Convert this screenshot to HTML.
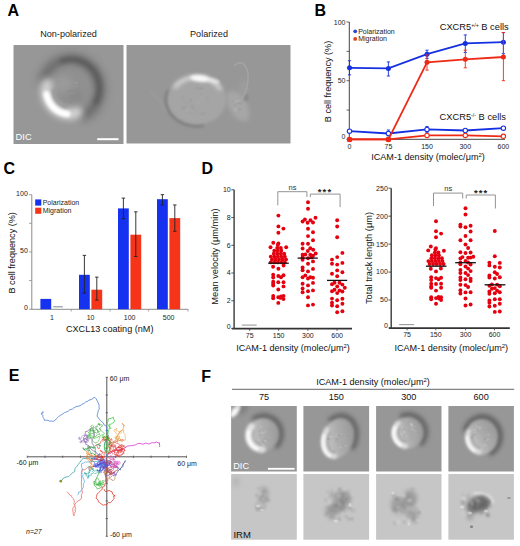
<!DOCTYPE html>
<html><head><meta charset="utf-8"><style>
html,body{margin:0;padding:0;background:#fff;}
svg{display:block;font-family:"Liberation Sans", sans-serif;}
</style></head><body>
<svg width="520" height="546" viewBox="0 0 520 546">
<text x="7.6" y="15.8" font-size="16" text-anchor="start" fill="#000" font-weight="bold" >A</text>
<text x="314.6" y="15.9" font-size="16" text-anchor="start" fill="#000" font-weight="bold" >B</text>
<text x="3.6" y="173.8" font-size="16" text-anchor="start" fill="#000" font-weight="bold" >C</text>
<text x="201.6" y="174.2" font-size="16" text-anchor="start" fill="#000" font-weight="bold" >D</text>
<text x="8.8" y="380.7" font-size="16" text-anchor="start" fill="#000" font-weight="bold" >E</text>
<text x="201.2" y="381.9" font-size="16" text-anchor="start" fill="#000" font-weight="bold" >F</text>
<text x="68.5" y="36.5" font-size="9.1" text-anchor="middle" fill="#222" font-weight="normal" >Non-polarized</text>
<text x="209" y="36.5" font-size="9.1" text-anchor="middle" fill="#222" font-weight="normal" >Polarized</text>
<defs>
<filter id="b05" x="-50%" y="-50%" width="200%" height="200%"><feGaussianBlur stdDeviation="0.6"/></filter>
<filter id="b1" x="-50%" y="-50%" width="200%" height="200%"><feGaussianBlur stdDeviation="1"/></filter>
<filter id="b15" x="-50%" y="-50%" width="200%" height="200%"><feGaussianBlur stdDeviation="1.5"/></filter>
<filter id="b2" x="-50%" y="-50%" width="200%" height="200%"><feGaussianBlur stdDeviation="2"/></filter>
<filter id="b3" x="-50%" y="-50%" width="200%" height="200%"><feGaussianBlur stdDeviation="3"/></filter>
<filter id="b4" x="-50%" y="-50%" width="200%" height="200%"><feGaussianBlur stdDeviation="4"/></filter>
</defs>
<defs><clipPath id="cA1"><rect x="13.5" y="45" width="110" height="99"/></clipPath></defs><defs><clipPath id="cA2"><rect x="126.5" y="45" width="164" height="98.5"/></clipPath></defs>
<rect x="13.5" y="45" width="110" height="99" fill="#979797"/>
<g clip-path="url(#cA1)"><path d="M44.7,79.1 L46.6,74.9 L49.0,71.0 L52.1,67.6 L55.6,64.8 L59.5,62.5 L63.8,61.0 L68.2,60.2 L72.6,60.0 L77.1,60.7 L81.3,62.0 L85.4,64.1 L89.0,66.8 L92.2,70.0 L94.8,73.8 L96.9,77.9 L98.2,82.3 L98.9,86.9 L98.9,91.5 L98.1,96.1 L96.7,100.5 L94.6,104.6 L91.9,108.3 L88.7,111.5 L85.0,114.1" fill="none" stroke="#4a4a4a" stroke-width="12" stroke-linecap="round" opacity="0.55" filter="url(#b4)"/><path d="M62.6,61.2 L65.3,60.4 L68.0,59.8 L70.8,59.5 L73.6,59.5 L76.4,59.9 L79.1,60.5 L81.8,61.4 L84.3,62.5 L86.8,64.0 L89.1,65.6 L91.2,67.6 L93.1,69.7 L94.8,72.0 L96.2,74.5 L97.4,77.1 L98.3,79.8 L99.0,82.6 L99.4,85.5 L99.5,88.4 L99.3,91.3 L98.8,94.2 L98.1,97.0 L97.1,99.7 L95.8,102.2" fill="none" stroke="#4a4a4a" stroke-width="6" stroke-linecap="round" opacity="0.5" filter="url(#b2)"/><ellipse cx="69.0" cy="90.0" rx="23.0" ry="25.0" fill="#8f8f8f" opacity="0.8" filter="url(#b3)"/><ellipse cx="63.0" cy="84.0" rx="10.0" ry="9.0" fill="#a4a4a4" opacity="0.5" filter="url(#b3)"/><ellipse cx="76.0" cy="96.0" rx="7.0" ry="6.0" fill="#828282" opacity="0.5" filter="url(#b3)"/><ellipse cx="68.6" cy="91.0" rx="3.0" ry="1.6" fill="#7c7c7c" opacity="0.11846603438548767" filter="url(#b05)"/><ellipse cx="70.4" cy="93.4" rx="2.8" ry="1.0" fill="#b0b0b0" opacity="0.11417951292594562" filter="url(#b05)"/><ellipse cx="71.2" cy="102.3" rx="2.5" ry="1.9" fill="#888888" opacity="0.19647577811255668" filter="url(#b05)"/><ellipse cx="74.6" cy="92.9" rx="1.5" ry="0.9" fill="#c0c0c0" opacity="0.1059551105168855" filter="url(#b05)"/><ellipse cx="60.7" cy="80.2" rx="1.3" ry="1.6" fill="#888888" opacity="0.15909594434680577" filter="url(#b05)"/><ellipse cx="60.9" cy="79.9" rx="1.8" ry="0.8" fill="#c0c0c0" opacity="0.14573298815995578" filter="url(#b05)"/><ellipse cx="76.2" cy="82.7" rx="1.7" ry="1.3" fill="#c0c0c0" opacity="0.15631422606579057" filter="url(#b05)"/><ellipse cx="76.3" cy="86.3" rx="2.3" ry="1.2" fill="#b0b0b0" opacity="0.13368928364451543" filter="url(#b05)"/><path d="M77.1,112.6 L75.1,113.2 L73.0,113.7 L71.0,113.9 L68.9,114.0 L66.8,113.9 L64.7,113.5 L62.7,113.0 L60.7,112.3 L58.8,111.4 L57.0,110.3 L55.3,109.1 L53.7,107.7 L52.2,106.1 L50.9,104.5 L49.7,102.7 L48.6,100.8 L47.8,98.8 L47.1,96.7 L46.6,94.6 L46.3,92.4 L46.2,90.3 L46.3,88.1 L46.5,85.9 L47.0,83.8" fill="none" stroke="#ffffff" stroke-width="11" stroke-linecap="round" opacity="0.6" filter="url(#b3)"/><path d="M67.2,113.9 L65.9,113.8 L64.7,113.5 L63.5,113.2 L62.3,112.9 L61.1,112.5 L59.9,112.0 L58.8,111.4 L57.7,110.8 L56.6,110.1 L55.6,109.4 L54.6,108.6 L53.7,107.7 L52.8,106.8 L51.9,105.8 L51.1,104.8 L50.4,103.8 L49.7,102.7 L49.0,101.5 L48.5,100.4 L48.0,99.2 L47.5,98.0 L47.1,96.7 L46.8,95.4 L46.5,94.2" fill="none" stroke="#ffffff" stroke-width="6.5" stroke-linecap="round" opacity="1" filter="url(#b15)"/><path d="M67.0,107.7 L66.1,107.5 L65.1,107.2 L64.2,106.9 L63.3,106.5 L62.4,106.1 L61.5,105.6 L60.7,105.0 L59.8,104.4 L59.1,103.8 L58.3,103.1 L57.6,102.4 L57.0,101.6 L56.4,100.7 L55.8,99.9 L55.3,99.0 L54.8,98.1 L54.4,97.1 L54.0,96.2 L53.7,95.2 L53.5,94.2 L53.3,93.1 L53.1,92.1 L53.0,91.0 L53.0,90.0" fill="none" stroke="#787878" stroke-width="2" stroke-linecap="round" opacity="0.35" filter="url(#b1)"/></g>
<text x="15.6" y="140.4" font-size="9.3" text-anchor="start" fill="#fff" font-weight="normal" >DIC</text>
<rect x="97.2" y="138.2" width="21.3" height="2" fill="#fff"/>
<rect x="126.5" y="45" width="164" height="98.5" fill="#979797"/>
<g clip-path="url(#cA2)"><ellipse cx="238.0" cy="106.0" rx="9.0" ry="17.0" fill="#acacac" opacity="0.75" filter="url(#b2)" transform="rotate(-30 238 106)"/><ellipse cx="243.0" cy="88.0" rx="4.0" ry="9.0" fill="#a4a4a4" opacity="0.45" filter="url(#b2)"/><ellipse cx="239.0" cy="109.2" rx="2.5" ry="1.3" fill="#8a8a8a" opacity="0.24740382717151854" filter="url(#b05)"/><ellipse cx="235.5" cy="110.5" rx="2.1" ry="1.3" fill="#c2c2c2" opacity="0.16266180706561467" filter="url(#b05)"/><ellipse cx="235.3" cy="105.9" rx="1.5" ry="1.7" fill="#929292" opacity="0.22690490618961665" filter="url(#b05)"/><ellipse cx="234.9" cy="101.7" rx="2.5" ry="1.3" fill="#c2c2c2" opacity="0.16491407247262302" filter="url(#b05)"/><ellipse cx="236.1" cy="109.7" rx="2.5" ry="1.6" fill="#b8b8b8" opacity="0.1257966108190567" filter="url(#b05)"/><ellipse cx="238.3" cy="101.3" rx="2.0" ry="1.2" fill="#c2c2c2" opacity="0.23489838096584625" filter="url(#b05)"/><ellipse cx="236.1" cy="109.1" rx="2.4" ry="2.1" fill="#c2c2c2" opacity="0.14361870204402621" filter="url(#b05)"/><ellipse cx="232.7" cy="101.6" rx="1.5" ry="1.3" fill="#8a8a8a" opacity="0.23338502663452027" filter="url(#b05)"/><ellipse cx="240.5" cy="103.3" rx="2.2" ry="2.0" fill="#929292" opacity="0.2231451513813286" filter="url(#b05)"/><ellipse cx="237.7" cy="103.1" rx="2.5" ry="1.1" fill="#8a8a8a" opacity="0.12685336632367727" filter="url(#b05)"/><ellipse cx="246.0" cy="97.5" rx="2.5" ry="3.5" fill="#7c7c7c" opacity="0.5" filter="url(#b1)"/><path d="M202.3,125.1 L199.7,125.4 L197.0,125.5 L194.3,125.4 L191.7,125.1 L189.1,124.6 L186.6,124.0 L184.1,123.1 L181.8,122.1 L179.5,120.9 L177.4,119.5 L175.4,118.0 L173.6,116.4 L172.0,114.6 L170.6,112.8 L169.4,110.8 L168.3,108.7 L167.5,106.6 L167.0,104.4 L166.6,102.2 L166.5,100.0 L166.6,97.8 L167.0,95.6 L167.5,93.4 L168.3,91.3" fill="none" stroke="#555555" stroke-width="3.5" stroke-linecap="round" opacity="0.4" filter="url(#b15)"/><ellipse cx="197.0" cy="99.5" rx="29.5" ry="25.0" fill="#a6a6a6" opacity="0.95" filter="url(#b15)"/><ellipse cx="183.9" cy="107.5" rx="2.5" ry="1.7" fill="#8c8c8c" opacity="0.1989721237068127" filter="url(#b05)"/><ellipse cx="184.7" cy="101.9" rx="2.8" ry="0.9" fill="#969696" opacity="0.10692647631833113" filter="url(#b05)"/><ellipse cx="210.3" cy="91.9" rx="1.7" ry="0.9" fill="#969696" opacity="0.16158900889891406" filter="url(#b05)"/><ellipse cx="197.9" cy="87.9" rx="3.1" ry="1.5" fill="#8c8c8c" opacity="0.1741021780800145" filter="url(#b05)"/><ellipse cx="207.6" cy="97.6" rx="1.5" ry="2.0" fill="#969696" opacity="0.18658855842064648" filter="url(#b05)"/><ellipse cx="186.9" cy="110.5" rx="1.6" ry="2.5" fill="#c4c4c4" opacity="0.11224778708824737" filter="url(#b05)"/><ellipse cx="197.0" cy="112.1" rx="1.6" ry="2.4" fill="#969696" opacity="0.1291987295189653" filter="url(#b05)"/><ellipse cx="190.4" cy="100.5" rx="1.7" ry="2.3" fill="#8c8c8c" opacity="0.1718092566102728" filter="url(#b05)"/><ellipse cx="197.6" cy="102.7" rx="2.7" ry="1.2" fill="#b6b6b6" opacity="0.15564870013296242" filter="url(#b05)"/><ellipse cx="203.2" cy="90.1" rx="1.5" ry="1.4" fill="#b6b6b6" opacity="0.1346613420261831" filter="url(#b05)"/><ellipse cx="202.1" cy="94.4" rx="1.4" ry="1.0" fill="#8c8c8c" opacity="0.17770185875051867" filter="url(#b05)"/><ellipse cx="192.7" cy="107.2" rx="2.6" ry="2.4" fill="#8c8c8c" opacity="0.14070146599246844" filter="url(#b05)"/><ellipse cx="201.8" cy="114.0" rx="2.2" ry="1.5" fill="#8c8c8c" opacity="0.1936287454337959" filter="url(#b05)"/><ellipse cx="187.3" cy="103.1" rx="2.1" ry="1.5" fill="#969696" opacity="0.10574309515729459" filter="url(#b05)"/><ellipse cx="189.1" cy="113.0" rx="2.5" ry="0.9" fill="#8c8c8c" opacity="0.11706296756455697" filter="url(#b05)"/><ellipse cx="208.3" cy="100.3" rx="1.7" ry="2.5" fill="#969696" opacity="0.10282994281711365" filter="url(#b05)"/><ellipse cx="202.3" cy="98.5" rx="2.4" ry="2.3" fill="#b6b6b6" opacity="0.11387950966830163" filter="url(#b05)"/><ellipse cx="201.7" cy="88.7" rx="2.6" ry="1.5" fill="#8c8c8c" opacity="0.1953974438575563" filter="url(#b05)"/><ellipse cx="204.0" cy="113.0" rx="2.4" ry="1.3" fill="#969696" opacity="0.17516366761826943" filter="url(#b05)"/><ellipse cx="183.0" cy="97.5" rx="1.6" ry="1.9" fill="#8c8c8c" opacity="0.1071889623011173" filter="url(#b05)"/><path d="M175.3,86.6 L176.6,85.1 L178.1,83.7 L179.7,82.4 L181.5,81.3 L183.3,80.2 L185.3,79.3 L187.3,78.6 L189.4,77.9 L191.5,77.5 L193.7,77.2 L195.9,77.0 L198.2,77.0 L200.4,77.2 L202.5,77.5 L204.7,78.0 L206.8,78.6 L208.8,79.4 L210.7,80.3 L212.6,81.3 L214.3,82.5 L215.9,83.8 L217.4,85.2 L218.8,86.7 L219.9,88.2" fill="none" stroke="#ffffff" stroke-width="4" stroke-linecap="round" opacity="0.55" filter="url(#b2)"/><ellipse cx="200.0" cy="78.5" rx="10.0" ry="3.3" fill="#ffffff" opacity="0.9" filter="url(#b15)" transform="rotate(6 200 78.5)"/><ellipse cx="214.0" cy="81.0" rx="6.0" ry="2.5" fill="#f4f4f4" opacity="0.6" filter="url(#b1)" transform="rotate(15 214 81)"/><path d="M234,66 C242,58 249,66 248,80 C247,90 245,95 242,99" fill="none" stroke="#b0b0b0" stroke-width="1.6" opacity="0.5" filter="url(#b05)"/><path d="M150,92 C158,96 162,104 166,112" fill="none" stroke="#a8a8a8" stroke-width="2" opacity="0.3" filter="url(#b1)"/></g>
<line x1="349.3" y1="22" x2="349.3" y2="139.4" stroke="#444" stroke-width="1" />
<line x1="349.3" y1="139.3" x2="505" y2="139.3" stroke="#444" stroke-width="1" />
<line x1="346.5" y1="139.4" x2="349.3" y2="139.4" stroke="#444" stroke-width="0.8" />
<line x1="346.5" y1="110.05000000000001" x2="349.3" y2="110.05000000000001" stroke="#444" stroke-width="0.8" />
<line x1="346.5" y1="80.70000000000002" x2="349.3" y2="80.70000000000002" stroke="#444" stroke-width="0.8" />
<line x1="346.5" y1="51.35000000000001" x2="349.3" y2="51.35000000000001" stroke="#444" stroke-width="0.8" />
<line x1="346.5" y1="22.000000000000014" x2="349.3" y2="22.000000000000014" stroke="#444" stroke-width="0.8" />
<text x="345.5" y="138.9" font-size="7" text-anchor="end" fill="#222" font-weight="normal" >0</text>
<text x="345.5" y="83.20000000000002" font-size="7" text-anchor="end" fill="#222" font-weight="normal" >50</text>
<text x="345.5" y="24.500000000000014" font-size="7" text-anchor="end" fill="#222" font-weight="normal" >100</text>
<text x="349.5" y="149.2" font-size="7" text-anchor="middle" fill="#222" font-weight="normal" >0</text>
<text x="388.4" y="149.2" font-size="7" text-anchor="middle" fill="#222" font-weight="normal" >75</text>
<text x="427" y="149.2" font-size="7" text-anchor="middle" fill="#222" font-weight="normal" >150</text>
<text x="465.3" y="149.2" font-size="7" text-anchor="middle" fill="#222" font-weight="normal" >300</text>
<text x="503.4" y="149.2" font-size="7" text-anchor="middle" fill="#222" font-weight="normal" >600</text>
<text x="428" y="160.3" font-size="9.1" text-anchor="middle" fill="#111" font-weight="normal" >ICAM-1 density (molec/&#956;m<tspan font-size="6" dy="-3">2</tspan><tspan dy="3">)</tspan></text>
<text x="0" y="0" font-size="9.1" text-anchor="middle" fill="#111" font-weight="normal" transform="translate(330.7,81.5) rotate(-90)">B cell frequency (%)</text>
<circle cx="355.2" cy="31.3" r="1.9" fill="#2a48d0"/>
<circle cx="355.2" cy="38.9" r="1.9" fill="#d8401e"/>
<text x="358.2" y="33.8" font-size="7" text-anchor="start" fill="#222" font-weight="normal" >Polarization</text>
<text x="358.2" y="41.4" font-size="7" text-anchor="start" fill="#222" font-weight="normal" >Migration</text>
<text x="439.7" y="30" font-size="9.3" text-anchor="start" fill="#111" font-weight="normal" >CXCR5<tspan font-size="5.2" dy="-3.2">+/+</tspan><tspan dy="3.2"> B cells</tspan></text>
<text x="439.6" y="120.1" font-size="9.3" text-anchor="start" fill="#111" font-weight="normal" >CXCR5<tspan font-size="5.2" dy="-3.2">-/-</tspan><tspan dy="3.2"> B cells</tspan></text>
<line x1="388.4" y1="130.008" x2="388.4" y2="135.87800000000001" stroke="#1530e0" stroke-width="0.9" />
<line x1="386.79999999999995" y1="130.008" x2="390.0" y2="130.008" stroke="#1530e0" stroke-width="0.9" />
<line x1="386.79999999999995" y1="135.87800000000001" x2="390.0" y2="135.87800000000001" stroke="#1530e0" stroke-width="0.9" />
<line x1="427" y1="126.486" x2="427" y2="132.356" stroke="#1530e0" stroke-width="0.9" />
<line x1="425.4" y1="126.486" x2="428.6" y2="126.486" stroke="#1530e0" stroke-width="0.9" />
<line x1="425.4" y1="132.356" x2="428.6" y2="132.356" stroke="#1530e0" stroke-width="0.9" />
<polyline points="349.5,131.2 388.4,133.5 427.0,129.4 465.3,130.5 503.4,128.2" fill="none" stroke="#1530e0" stroke-width="1.8"/>
<circle cx="349.5" cy="131.2" r="2.2" fill="#fff" stroke="#1530e0" stroke-width="1.1"/>
<circle cx="388.4" cy="133.5" r="2.2" fill="#fff" stroke="#1530e0" stroke-width="1.1"/>
<circle cx="427" cy="129.4" r="2.2" fill="#fff" stroke="#1530e0" stroke-width="1.1"/>
<circle cx="465.3" cy="130.5" r="2.2" fill="#fff" stroke="#1530e0" stroke-width="1.1"/>
<circle cx="503.4" cy="128.2" r="2.2" fill="#fff" stroke="#1530e0" stroke-width="1.1"/>
<polyline points="349.5,139.4 388.4,139.4 427.0,135.4 465.3,135.4 503.4,136.3" fill="none" stroke="#ee2a16" stroke-width="1.8"/>
<circle cx="349.5" cy="139.4" r="2.2" fill="#fff" stroke="#ee2a16" stroke-width="1.1"/>
<circle cx="388.4" cy="139.4" r="2.2" fill="#fff" stroke="#ee2a16" stroke-width="1.1"/>
<circle cx="427" cy="135.4" r="2.2" fill="#fff" stroke="#ee2a16" stroke-width="1.1"/>
<circle cx="465.3" cy="135.4" r="2.2" fill="#fff" stroke="#ee2a16" stroke-width="1.1"/>
<circle cx="503.4" cy="136.3" r="2.2" fill="#fff" stroke="#ee2a16" stroke-width="1.1"/>
<polyline points="349.5,139.4 388.4,139.4" fill="none" stroke="#ee2a16" stroke-width="1.8"/>
<circle cx="349.5" cy="139.4" r="2.5" fill="#ee2a16"/>
<circle cx="388.4" cy="139.4" r="2.5" fill="#ee2a16"/>
<line x1="349.5" y1="60.742000000000004" x2="349.5" y2="74.83000000000001" stroke="#1530e0" stroke-width="0.9" />
<line x1="347.9" y1="60.742000000000004" x2="351.1" y2="60.742000000000004" stroke="#1530e0" stroke-width="0.9" />
<line x1="347.9" y1="74.83000000000001" x2="351.1" y2="74.83000000000001" stroke="#1530e0" stroke-width="0.9" />
<line x1="388.4" y1="61.91600000000001" x2="388.4" y2="76.00400000000002" stroke="#1530e0" stroke-width="0.9" />
<line x1="386.79999999999995" y1="61.91600000000001" x2="390.0" y2="61.91600000000001" stroke="#1530e0" stroke-width="0.9" />
<line x1="386.79999999999995" y1="76.00400000000002" x2="390.0" y2="76.00400000000002" stroke="#1530e0" stroke-width="0.9" />
<line x1="427" y1="50.176000000000016" x2="427" y2="58.394000000000005" stroke="#1530e0" stroke-width="0.9" />
<line x1="425.4" y1="50.176000000000016" x2="428.6" y2="50.176000000000016" stroke="#1530e0" stroke-width="0.9" />
<line x1="425.4" y1="58.394000000000005" x2="428.6" y2="58.394000000000005" stroke="#1530e0" stroke-width="0.9" />
<line x1="465.3" y1="34.914000000000016" x2="465.3" y2="52.524000000000015" stroke="#1530e0" stroke-width="0.9" />
<line x1="463.7" y1="34.914000000000016" x2="466.90000000000003" y2="34.914000000000016" stroke="#1530e0" stroke-width="0.9" />
<line x1="463.7" y1="52.524000000000015" x2="466.90000000000003" y2="52.524000000000015" stroke="#1530e0" stroke-width="0.9" />
<line x1="503.4" y1="32.56600000000002" x2="503.4" y2="53.69800000000001" stroke="#1530e0" stroke-width="0.9" />
<line x1="501.79999999999995" y1="32.56600000000002" x2="505.0" y2="32.56600000000002" stroke="#1530e0" stroke-width="0.9" />
<line x1="501.79999999999995" y1="53.69800000000001" x2="505.0" y2="53.69800000000001" stroke="#1530e0" stroke-width="0.9" />
<polyline points="349.5,67.8 388.4,68.4 427.0,54.2 465.3,43.4 503.4,42.2" fill="none" stroke="#1530e0" stroke-width="1.8"/>
<circle cx="349.5" cy="67.8" r="2.5" fill="#1530e0"/>
<circle cx="388.4" cy="68.4" r="2.5" fill="#1530e0"/>
<circle cx="427" cy="54.2" r="2.5" fill="#1530e0"/>
<circle cx="465.3" cy="43.4" r="2.5" fill="#1530e0"/>
<circle cx="503.4" cy="42.2" r="2.5" fill="#1530e0"/>
<line x1="427" y1="54.872000000000014" x2="427" y2="70.13400000000001" stroke="#ee2a16" stroke-width="0.9" />
<line x1="425.4" y1="54.872000000000014" x2="428.6" y2="54.872000000000014" stroke="#ee2a16" stroke-width="0.9" />
<line x1="425.4" y1="70.13400000000001" x2="428.6" y2="70.13400000000001" stroke="#ee2a16" stroke-width="0.9" />
<line x1="465.3" y1="50.176000000000016" x2="465.3" y2="67.78600000000002" stroke="#ee2a16" stroke-width="0.9" />
<line x1="463.7" y1="50.176000000000016" x2="466.90000000000003" y2="50.176000000000016" stroke="#ee2a16" stroke-width="0.9" />
<line x1="463.7" y1="67.78600000000002" x2="466.90000000000003" y2="67.78600000000002" stroke="#ee2a16" stroke-width="0.9" />
<line x1="503.4" y1="32.56600000000002" x2="503.4" y2="80.70000000000002" stroke="#ee2a16" stroke-width="0.9" />
<line x1="501.79999999999995" y1="32.56600000000002" x2="505.0" y2="32.56600000000002" stroke="#ee2a16" stroke-width="0.9" />
<line x1="501.79999999999995" y1="80.70000000000002" x2="505.0" y2="80.70000000000002" stroke="#ee2a16" stroke-width="0.9" />
<polyline points="388.4,139.4 427.0,62.3 465.3,59.3 503.4,57.0" fill="none" stroke="#ee2a16" stroke-width="1.8"/>
<circle cx="388.4" cy="139.4" r="2.5" fill="#ee2a16"/>
<circle cx="427" cy="62.3" r="2.5" fill="#ee2a16"/>
<circle cx="465.3" cy="59.3" r="2.5" fill="#ee2a16"/>
<circle cx="503.4" cy="57.0" r="2.5" fill="#ee2a16"/>
<circle cx="349.5" cy="139.4" r="2.5" fill="#ee2a16"/>
<line x1="31.8" y1="194.6" x2="31.8" y2="309.5" stroke="#8c8c8c" stroke-width="1" />
<line x1="31.3" y1="309.3" x2="188.3" y2="309.3" stroke="#8c8c8c" stroke-width="1" />
<line x1="29" y1="309.2" x2="31.8" y2="309.2" stroke="#8c8c8c" stroke-width="0.8" />
<line x1="29" y1="280.565" x2="31.8" y2="280.565" stroke="#8c8c8c" stroke-width="0.8" />
<line x1="29" y1="251.93" x2="31.8" y2="251.93" stroke="#8c8c8c" stroke-width="0.8" />
<line x1="29" y1="223.295" x2="31.8" y2="223.295" stroke="#8c8c8c" stroke-width="0.8" />
<line x1="29" y1="194.66" x2="31.8" y2="194.66" stroke="#8c8c8c" stroke-width="0.8" />
<text x="27.8" y="310.4" font-size="7" text-anchor="end" fill="#222" font-weight="normal" >0</text>
<text x="27.8" y="253.13" font-size="7" text-anchor="end" fill="#222" font-weight="normal" >50</text>
<text x="27.8" y="195.85999999999999" font-size="7" text-anchor="end" fill="#222" font-weight="normal" >100</text>
<line x1="71.2" y1="309.3" x2="71.2" y2="311.5" stroke="#8c8c8c" stroke-width="0.8" />
<line x1="110" y1="309.3" x2="110" y2="311.5" stroke="#8c8c8c" stroke-width="0.8" />
<line x1="148.7" y1="309.3" x2="148.7" y2="311.5" stroke="#8c8c8c" stroke-width="0.8" />
<line x1="188" y1="309.3" x2="188" y2="311.5" stroke="#8c8c8c" stroke-width="0.8" />
<line x1="53.2" y1="306.8" x2="62.8" y2="306.8" stroke="#8890a8" stroke-width="1.1" />
<rect x="40.4" y="298.9" width="10.8" height="10.3" fill="#1432f0"/>
<rect x="52.8" y="309.2" width="10.8" height="0.0" fill="#f5341a"/>
<rect x="79.0" y="274.8" width="10.8" height="34.4" fill="#1432f0"/>
<rect x="91.39999999999999" y="289.7" width="10.8" height="19.5" fill="#f5341a"/>
<line x1="84.39999999999999" y1="255.3662" x2="84.39999999999999" y2="293.1644" stroke="#222" stroke-width="0.9" />
<line x1="82.69999999999999" y1="255.3662" x2="86.1" y2="255.3662" stroke="#222" stroke-width="0.9" />
<line x1="82.69999999999999" y1="293.1644" x2="86.1" y2="293.1644" stroke="#222" stroke-width="0.9" />
<line x1="96.8" y1="277.1288" x2="96.8" y2="300.03679999999997" stroke="#222" stroke-width="0.9" />
<line x1="95.1" y1="277.1288" x2="98.5" y2="277.1288" stroke="#222" stroke-width="0.9" />
<line x1="95.1" y1="300.03679999999997" x2="98.5" y2="300.03679999999997" stroke="#222" stroke-width="0.9" />
<rect x="118.0" y="208.4" width="10.8" height="100.8" fill="#1432f0"/>
<rect x="130.4" y="234.7" width="10.8" height="74.5" fill="#f5341a"/>
<line x1="123.39999999999999" y1="198.0962" x2="123.39999999999999" y2="218.71339999999998" stroke="#222" stroke-width="0.9" />
<line x1="121.69999999999999" y1="198.0962" x2="125.1" y2="198.0962" stroke="#222" stroke-width="0.9" />
<line x1="121.69999999999999" y1="218.71339999999998" x2="125.1" y2="218.71339999999998" stroke="#222" stroke-width="0.9" />
<line x1="135.79999999999998" y1="211.841" x2="135.79999999999998" y2="256.5116" stroke="#222" stroke-width="0.9" />
<line x1="134.1" y1="211.841" x2="137.49999999999997" y2="211.841" stroke="#222" stroke-width="0.9" />
<line x1="134.1" y1="256.5116" x2="137.49999999999997" y2="256.5116" stroke="#222" stroke-width="0.9" />
<rect x="157.0" y="199.2" width="10.8" height="110.0" fill="#1432f0"/>
<rect x="169.4" y="218.1" width="10.8" height="91.1" fill="#f5341a"/>
<line x1="162.4" y1="194.66" x2="162.4" y2="204.96859999999998" stroke="#222" stroke-width="0.9" />
<line x1="160.70000000000002" y1="194.66" x2="164.1" y2="194.66" stroke="#222" stroke-width="0.9" />
<line x1="160.70000000000002" y1="204.96859999999998" x2="164.1" y2="204.96859999999998" stroke="#222" stroke-width="0.9" />
<line x1="174.79999999999998" y1="204.96859999999998" x2="174.79999999999998" y2="231.31279999999998" stroke="#222" stroke-width="0.9" />
<line x1="173.1" y1="204.96859999999998" x2="176.49999999999997" y2="204.96859999999998" stroke="#222" stroke-width="0.9" />
<line x1="173.1" y1="231.31279999999998" x2="176.49999999999997" y2="231.31279999999998" stroke="#222" stroke-width="0.9" />
<text x="52" y="320" font-size="7" text-anchor="middle" fill="#222" font-weight="normal" >1</text>
<text x="90.6" y="320" font-size="7" text-anchor="middle" fill="#222" font-weight="normal" >10</text>
<text x="129.6" y="320" font-size="7" text-anchor="middle" fill="#222" font-weight="normal" >100</text>
<text x="168.6" y="320" font-size="7" text-anchor="middle" fill="#222" font-weight="normal" >500</text>
<text x="109.7" y="331.8" font-size="9.1" text-anchor="middle" fill="#111" font-weight="normal" >CXCL13 coating (nM)</text>
<text x="0" y="0" font-size="9.1" text-anchor="middle" fill="#111" font-weight="normal" transform="translate(14.8,252.8) rotate(-90)">B cell frequency (%)</text>
<rect x="35.2" y="199.4" width="6.1" height="6.2" fill="#1432f0"/>
<rect x="35.2" y="207.7" width="6.1" height="6.1" fill="#f5341a"/>
<text x="42.7" y="204.8" font-size="7" text-anchor="start" fill="#222" font-weight="normal" >Polarization</text>
<text x="42.7" y="212.9" font-size="7" text-anchor="start" fill="#222" font-weight="normal" >Migration</text>
<line x1="234.1" y1="189.8" x2="234.1" y2="329.0" stroke="#3a3a3a" stroke-width="1.4" />
<line x1="231.9" y1="328.7" x2="352" y2="328.7" stroke="#333" stroke-width="1.7" />
<line x1="231.29999999999998" y1="328.5" x2="234.1" y2="328.5" stroke="#444" stroke-width="0.9" />
<text x="230.7" y="328.59999999999997" font-size="7" text-anchor="end" fill="#222" font-weight="normal" >0</text>
<line x1="231.29999999999998" y1="300.76" x2="234.1" y2="300.76" stroke="#444" stroke-width="0.9" />
<text x="230.7" y="303.15999999999997" font-size="7" text-anchor="end" fill="#222" font-weight="normal" >2</text>
<line x1="231.29999999999998" y1="273.02" x2="234.1" y2="273.02" stroke="#444" stroke-width="0.9" />
<text x="230.7" y="275.41999999999996" font-size="7" text-anchor="end" fill="#222" font-weight="normal" >4</text>
<line x1="231.29999999999998" y1="245.28" x2="234.1" y2="245.28" stroke="#444" stroke-width="0.9" />
<text x="230.7" y="247.68" font-size="7" text-anchor="end" fill="#222" font-weight="normal" >6</text>
<line x1="231.29999999999998" y1="217.54000000000002" x2="234.1" y2="217.54000000000002" stroke="#444" stroke-width="0.9" />
<text x="230.7" y="219.94000000000003" font-size="7" text-anchor="end" fill="#222" font-weight="normal" >8</text>
<line x1="231.29999999999998" y1="189.8" x2="234.1" y2="189.8" stroke="#444" stroke-width="0.9" />
<text x="230.7" y="192.20000000000002" font-size="7" text-anchor="end" fill="#222" font-weight="normal" >10</text>
<line x1="249.7" y1="328.5" x2="249.7" y2="330.8" stroke="#444" stroke-width="0.9" />
<text x="249.7" y="337.5" font-size="7" text-anchor="middle" fill="#222" font-weight="normal" >75</text>
<line x1="278.6" y1="328.5" x2="278.6" y2="330.8" stroke="#444" stroke-width="0.9" />
<text x="278.6" y="337.5" font-size="7" text-anchor="middle" fill="#222" font-weight="normal" >150</text>
<line x1="307.9" y1="328.5" x2="307.9" y2="330.8" stroke="#444" stroke-width="0.9" />
<text x="307.9" y="337.5" font-size="7" text-anchor="middle" fill="#222" font-weight="normal" >300</text>
<line x1="337.1" y1="328.5" x2="337.1" y2="330.8" stroke="#444" stroke-width="0.9" />
<text x="337.1" y="337.5" font-size="7" text-anchor="middle" fill="#222" font-weight="normal" >600</text>
<line x1="241.79999999999998" y1="325.1" x2="256.7" y2="325.1" stroke="#9a9a9a" stroke-width="1.1" />
<circle cx="278.4" cy="215.6" r="1.95" fill="#e4000f"/>
<circle cx="278.4" cy="226.4" r="1.95" fill="#e4000f"/>
<circle cx="283.4" cy="228.6" r="1.95" fill="#e4000f"/>
<circle cx="278.4" cy="232.8" r="1.95" fill="#e4000f"/>
<circle cx="273.3" cy="242.7" r="1.95" fill="#e4000f"/>
<circle cx="278.4" cy="243.4" r="1.95" fill="#e4000f"/>
<circle cx="270.5" cy="247.2" r="1.95" fill="#e4000f"/>
<circle cx="286.2" cy="247.2" r="1.95" fill="#e4000f"/>
<circle cx="273.1" cy="266.8" r="1.95" fill="#e4000f"/>
<circle cx="278.4" cy="268.7" r="1.95" fill="#e4000f"/>
<circle cx="283.6" cy="265.5" r="1.95" fill="#e4000f"/>
<circle cx="273.2" cy="274.8" r="1.95" fill="#e4000f"/>
<circle cx="273.2" cy="277.5" r="1.95" fill="#e4000f"/>
<circle cx="273.2" cy="281.8" r="1.95" fill="#e4000f"/>
<circle cx="273.2" cy="283.7" r="1.95" fill="#e4000f"/>
<circle cx="273.2" cy="285.6" r="1.95" fill="#e4000f"/>
<circle cx="278.3" cy="276.0" r="1.95" fill="#e4000f"/>
<circle cx="283.5" cy="275.2" r="1.95" fill="#e4000f"/>
<circle cx="281.0" cy="277.2" r="1.95" fill="#e4000f"/>
<circle cx="278.3" cy="282.2" r="1.95" fill="#e4000f"/>
<circle cx="283.5" cy="282.2" r="1.95" fill="#e4000f"/>
<circle cx="283.5" cy="286.4" r="1.95" fill="#e4000f"/>
<circle cx="278.3" cy="289.5" r="1.95" fill="#e4000f"/>
<circle cx="273.2" cy="296.0" r="1.95" fill="#e4000f"/>
<circle cx="273.2" cy="298.3" r="1.95" fill="#e4000f"/>
<circle cx="278.3" cy="297.2" r="1.95" fill="#e4000f"/>
<circle cx="281.0" cy="296.4" r="1.95" fill="#e4000f"/>
<circle cx="283.5" cy="296.0" r="1.95" fill="#e4000f"/>
<circle cx="283.5" cy="299.1" r="1.95" fill="#e4000f"/>
<circle cx="280.5" cy="297.9" r="1.95" fill="#e4000f"/>
<circle cx="278.3" cy="302.9" r="1.95" fill="#e4000f"/>
<circle cx="277.8" cy="245.0" r="1.95" fill="#e4000f"/>
<circle cx="277.2" cy="247.9" r="1.95" fill="#e4000f"/>
<circle cx="280.8" cy="247.9" r="1.95" fill="#e4000f"/>
<circle cx="274.3" cy="250.8" r="1.95" fill="#e4000f"/>
<circle cx="277.8" cy="250.8" r="1.95" fill="#e4000f"/>
<circle cx="281.3" cy="250.8" r="1.95" fill="#e4000f"/>
<circle cx="273.8" cy="253.7" r="1.95" fill="#e4000f"/>
<circle cx="277.2" cy="253.7" r="1.95" fill="#e4000f"/>
<circle cx="280.8" cy="253.7" r="1.95" fill="#e4000f"/>
<circle cx="284.2" cy="253.7" r="1.95" fill="#e4000f"/>
<circle cx="270.8" cy="256.6" r="1.95" fill="#e4000f"/>
<circle cx="274.3" cy="256.6" r="1.95" fill="#e4000f"/>
<circle cx="277.8" cy="256.6" r="1.95" fill="#e4000f"/>
<circle cx="281.3" cy="256.6" r="1.95" fill="#e4000f"/>
<circle cx="284.8" cy="256.6" r="1.95" fill="#e4000f"/>
<circle cx="272.0" cy="259.5" r="1.95" fill="#e4000f"/>
<circle cx="275.5" cy="259.5" r="1.95" fill="#e4000f"/>
<circle cx="279.0" cy="259.5" r="1.95" fill="#e4000f"/>
<circle cx="282.5" cy="259.5" r="1.95" fill="#e4000f"/>
<circle cx="286.0" cy="259.5" r="1.95" fill="#e4000f"/>
<circle cx="270.8" cy="262.4" r="1.95" fill="#e4000f"/>
<circle cx="274.3" cy="262.4" r="1.95" fill="#e4000f"/>
<circle cx="277.8" cy="262.4" r="1.95" fill="#e4000f"/>
<circle cx="281.3" cy="262.4" r="1.95" fill="#e4000f"/>
<circle cx="284.8" cy="262.4" r="1.95" fill="#e4000f"/>
<circle cx="308.0" cy="202.2" r="1.95" fill="#e4000f"/>
<circle cx="308.0" cy="208.8" r="1.95" fill="#e4000f"/>
<circle cx="315.5" cy="217.8" r="1.95" fill="#e4000f"/>
<circle cx="302.6" cy="221.5" r="1.95" fill="#e4000f"/>
<circle cx="304.9" cy="219.5" r="1.95" fill="#e4000f"/>
<circle cx="307.6" cy="222.8" r="1.95" fill="#e4000f"/>
<circle cx="310.5" cy="220.3" r="1.95" fill="#e4000f"/>
<circle cx="313.0" cy="222.5" r="1.95" fill="#e4000f"/>
<circle cx="308.0" cy="228.8" r="1.95" fill="#e4000f"/>
<circle cx="313.0" cy="232.2" r="1.95" fill="#e4000f"/>
<circle cx="308.0" cy="236.1" r="1.95" fill="#e4000f"/>
<circle cx="313.0" cy="240.3" r="1.95" fill="#e4000f"/>
<circle cx="302.6" cy="243.7" r="1.95" fill="#e4000f"/>
<circle cx="308.0" cy="243.7" r="1.95" fill="#e4000f"/>
<circle cx="302.6" cy="248.5" r="1.95" fill="#e4000f"/>
<circle cx="310.3" cy="248.3" r="1.95" fill="#e4000f"/>
<circle cx="313.2" cy="249.7" r="1.95" fill="#e4000f"/>
<circle cx="307.8" cy="251.0" r="1.95" fill="#e4000f"/>
<circle cx="302.6" cy="254.8" r="1.95" fill="#e4000f"/>
<circle cx="305.3" cy="254.5" r="1.95" fill="#e4000f"/>
<circle cx="315.7" cy="253.5" r="1.95" fill="#e4000f"/>
<circle cx="310.3" cy="254.8" r="1.95" fill="#e4000f"/>
<circle cx="313.0" cy="255.8" r="1.95" fill="#e4000f"/>
<circle cx="302.6" cy="257.2" r="1.95" fill="#e4000f"/>
<circle cx="308.0" cy="258.3" r="1.95" fill="#e4000f"/>
<circle cx="311.5" cy="257.2" r="1.95" fill="#e4000f"/>
<circle cx="302.6" cy="259.8" r="1.95" fill="#e4000f"/>
<circle cx="313.0" cy="261.4" r="1.95" fill="#e4000f"/>
<circle cx="308.0" cy="263.8" r="1.95" fill="#e4000f"/>
<circle cx="302.6" cy="267.5" r="1.95" fill="#e4000f"/>
<circle cx="302.6" cy="270.2" r="1.95" fill="#e4000f"/>
<circle cx="313.0" cy="268.9" r="1.95" fill="#e4000f"/>
<circle cx="308.0" cy="271.4" r="1.95" fill="#e4000f"/>
<circle cx="302.6" cy="277.3" r="1.95" fill="#e4000f"/>
<circle cx="305.3" cy="275.4" r="1.95" fill="#e4000f"/>
<circle cx="308.0" cy="278.5" r="1.95" fill="#e4000f"/>
<circle cx="310.3" cy="277.3" r="1.95" fill="#e4000f"/>
<circle cx="313.0" cy="277.7" r="1.95" fill="#e4000f"/>
<circle cx="302.6" cy="283.8" r="1.95" fill="#e4000f"/>
<circle cx="308.0" cy="285.4" r="1.95" fill="#e4000f"/>
<circle cx="313.0" cy="282.9" r="1.95" fill="#e4000f"/>
<circle cx="302.6" cy="288.5" r="1.95" fill="#e4000f"/>
<circle cx="302.6" cy="292.3" r="1.95" fill="#e4000f"/>
<circle cx="308.0" cy="291.2" r="1.95" fill="#e4000f"/>
<circle cx="313.0" cy="290.4" r="1.95" fill="#e4000f"/>
<circle cx="308.0" cy="297.3" r="1.95" fill="#e4000f"/>
<circle cx="308.0" cy="305.4" r="1.95" fill="#e4000f"/>
<circle cx="313.0" cy="304.6" r="1.95" fill="#e4000f"/>
<circle cx="337.2" cy="220.3" r="1.95" fill="#e4000f"/>
<circle cx="337.2" cy="226.5" r="1.95" fill="#e4000f"/>
<circle cx="337.2" cy="237.2" r="1.95" fill="#e4000f"/>
<circle cx="342.4" cy="252.9" r="1.95" fill="#e4000f"/>
<circle cx="337.2" cy="257.1" r="1.95" fill="#e4000f"/>
<circle cx="332.0" cy="259.6" r="1.95" fill="#e4000f"/>
<circle cx="332.0" cy="263.8" r="1.95" fill="#e4000f"/>
<circle cx="337.2" cy="264.6" r="1.95" fill="#e4000f"/>
<circle cx="342.4" cy="262.9" r="1.95" fill="#e4000f"/>
<circle cx="337.2" cy="270.4" r="1.95" fill="#e4000f"/>
<circle cx="342.4" cy="272.3" r="1.95" fill="#e4000f"/>
<circle cx="332.0" cy="273.7" r="1.95" fill="#e4000f"/>
<circle cx="337.2" cy="276.3" r="1.95" fill="#e4000f"/>
<circle cx="332.0" cy="284.2" r="1.95" fill="#e4000f"/>
<circle cx="334.5" cy="282.7" r="1.95" fill="#e4000f"/>
<circle cx="339.5" cy="282.7" r="1.95" fill="#e4000f"/>
<circle cx="342.4" cy="284.6" r="1.95" fill="#e4000f"/>
<circle cx="337.2" cy="286.5" r="1.95" fill="#e4000f"/>
<circle cx="344.8" cy="287.8" r="1.95" fill="#e4000f"/>
<circle cx="332.0" cy="291.2" r="1.95" fill="#e4000f"/>
<circle cx="334.5" cy="289.8" r="1.95" fill="#e4000f"/>
<circle cx="337.2" cy="293.1" r="1.95" fill="#e4000f"/>
<circle cx="339.5" cy="290.5" r="1.95" fill="#e4000f"/>
<circle cx="342.4" cy="291.5" r="1.95" fill="#e4000f"/>
<circle cx="332.0" cy="298.6" r="1.95" fill="#e4000f"/>
<circle cx="337.2" cy="300.3" r="1.95" fill="#e4000f"/>
<circle cx="342.4" cy="298.8" r="1.95" fill="#e4000f"/>
<circle cx="332.0" cy="302.8" r="1.95" fill="#e4000f"/>
<circle cx="332.0" cy="305.5" r="1.95" fill="#e4000f"/>
<circle cx="337.2" cy="306.3" r="1.95" fill="#e4000f"/>
<circle cx="342.4" cy="303.8" r="1.95" fill="#e4000f"/>
<circle cx="337.2" cy="312.3" r="1.95" fill="#e4000f"/>
<circle cx="342.4" cy="311.3" r="1.95" fill="#e4000f"/>
<line x1="268.2" y1="263.2" x2="288.8" y2="263.2" stroke="#111" stroke-width="1.3" />
<line x1="297.6" y1="258.1" x2="317.8" y2="258.1" stroke="#111" stroke-width="1.3" />
<line x1="327" y1="280.4" x2="347.2" y2="280.4" stroke="#111" stroke-width="1.3" />
<polyline points="277.8,205.3 277.8,191.7 306.9,191.7 306.9,196.9" fill="none" stroke="#888" stroke-width="0.9"/>
<text x="292.5" y="189.8" font-size="7.5" text-anchor="middle" fill="#333" font-weight="normal" >ns</text>
<polyline points="310.3,197.2 310.3,194.1 340.1,194.1 340.1,207.1" fill="none" stroke="#888" stroke-width="0.9"/>
<text x="325.0" y="195.1" font-size="9.5" text-anchor="middle" fill="#222" font-weight="bold" letter-spacing="1.1">***</text>
<text x="0" y="0" font-size="9.3" text-anchor="middle" fill="#111" font-weight="normal" transform="translate(218.2,256.5) rotate(-90)">Mean velocity (&#956;m/min)</text>
<text x="293" y="351.3" font-size="9.1" text-anchor="middle" fill="#111" font-weight="normal" >ICAM-1 density (molec/&#956;m<tspan font-size="6" dy="-3">2</tspan><tspan dy="3">)</tspan></text>
<line x1="391.2" y1="188.2" x2="391.2" y2="328.5" stroke="#3a3a3a" stroke-width="1.4" />
<line x1="389.0" y1="328.2" x2="509.8" y2="328.2" stroke="#333" stroke-width="1.7" />
<line x1="388.4" y1="328.0" x2="391.2" y2="328.0" stroke="#444" stroke-width="0.9" />
<text x="387.8" y="328.09999999999997" font-size="7" text-anchor="end" fill="#222" font-weight="normal" >0</text>
<line x1="388.4" y1="300.04" x2="391.2" y2="300.04" stroke="#444" stroke-width="0.9" />
<text x="387.8" y="302.44" font-size="7" text-anchor="end" fill="#222" font-weight="normal" >50</text>
<line x1="388.4" y1="272.08" x2="391.2" y2="272.08" stroke="#444" stroke-width="0.9" />
<text x="387.8" y="274.47999999999996" font-size="7" text-anchor="end" fill="#222" font-weight="normal" >100</text>
<line x1="388.4" y1="244.12" x2="391.2" y2="244.12" stroke="#444" stroke-width="0.9" />
<text x="387.8" y="246.52" font-size="7" text-anchor="end" fill="#222" font-weight="normal" >150</text>
<line x1="388.4" y1="216.16" x2="391.2" y2="216.16" stroke="#444" stroke-width="0.9" />
<text x="387.8" y="218.56" font-size="7" text-anchor="end" fill="#222" font-weight="normal" >200</text>
<line x1="388.4" y1="188.2" x2="391.2" y2="188.2" stroke="#444" stroke-width="0.9" />
<text x="387.8" y="190.6" font-size="7" text-anchor="end" fill="#222" font-weight="normal" >250</text>
<line x1="407.1" y1="328.0" x2="407.1" y2="330.3" stroke="#444" stroke-width="0.9" />
<text x="407.1" y="337.0" font-size="7" text-anchor="middle" fill="#222" font-weight="normal" >75</text>
<line x1="435.8" y1="328.0" x2="435.8" y2="330.3" stroke="#444" stroke-width="0.9" />
<text x="435.8" y="337.0" font-size="7" text-anchor="middle" fill="#222" font-weight="normal" >150</text>
<line x1="465.6" y1="328.0" x2="465.6" y2="330.3" stroke="#444" stroke-width="0.9" />
<text x="465.6" y="337.0" font-size="7" text-anchor="middle" fill="#222" font-weight="normal" >300</text>
<line x1="494.5" y1="328.0" x2="494.5" y2="330.3" stroke="#444" stroke-width="0.9" />
<text x="494.5" y="337.0" font-size="7" text-anchor="middle" fill="#222" font-weight="normal" >600</text>
<line x1="399.20000000000005" y1="324.6" x2="414.1" y2="324.6" stroke="#9a9a9a" stroke-width="1.1" />
<circle cx="436.0" cy="221.2" r="1.95" fill="#e4000f"/>
<circle cx="436.0" cy="231.2" r="1.95" fill="#e4000f"/>
<circle cx="441.1" cy="233.6" r="1.95" fill="#e4000f"/>
<circle cx="436.0" cy="237.3" r="1.95" fill="#e4000f"/>
<circle cx="430.8" cy="246.5" r="1.95" fill="#e4000f"/>
<circle cx="436.0" cy="248.1" r="1.95" fill="#e4000f"/>
<circle cx="428.2" cy="250.4" r="1.95" fill="#e4000f"/>
<circle cx="443.9" cy="250.8" r="1.95" fill="#e4000f"/>
<circle cx="430.8" cy="268.8" r="1.95" fill="#e4000f"/>
<circle cx="436.0" cy="271.4" r="1.95" fill="#e4000f"/>
<circle cx="440.9" cy="268.5" r="1.95" fill="#e4000f"/>
<circle cx="431.2" cy="277.3" r="1.95" fill="#e4000f"/>
<circle cx="431.2" cy="280.0" r="1.95" fill="#e4000f"/>
<circle cx="431.2" cy="283.8" r="1.95" fill="#e4000f"/>
<circle cx="431.2" cy="286.5" r="1.95" fill="#e4000f"/>
<circle cx="431.2" cy="287.7" r="1.95" fill="#e4000f"/>
<circle cx="436.0" cy="278.1" r="1.95" fill="#e4000f"/>
<circle cx="441.1" cy="277.7" r="1.95" fill="#e4000f"/>
<circle cx="438.5" cy="279.2" r="1.95" fill="#e4000f"/>
<circle cx="436.0" cy="284.0" r="1.95" fill="#e4000f"/>
<circle cx="441.1" cy="283.8" r="1.95" fill="#e4000f"/>
<circle cx="441.1" cy="287.7" r="1.95" fill="#e4000f"/>
<circle cx="436.0" cy="290.6" r="1.95" fill="#e4000f"/>
<circle cx="431.2" cy="297.3" r="1.95" fill="#e4000f"/>
<circle cx="431.2" cy="299.2" r="1.95" fill="#e4000f"/>
<circle cx="436.0" cy="298.1" r="1.95" fill="#e4000f"/>
<circle cx="438.5" cy="296.9" r="1.95" fill="#e4000f"/>
<circle cx="441.1" cy="297.3" r="1.95" fill="#e4000f"/>
<circle cx="441.1" cy="300.0" r="1.95" fill="#e4000f"/>
<circle cx="439.0" cy="298.5" r="1.95" fill="#e4000f"/>
<circle cx="436.0" cy="303.7" r="1.95" fill="#e4000f"/>
<circle cx="435.4" cy="249.5" r="1.95" fill="#e4000f"/>
<circle cx="434.9" cy="252.4" r="1.95" fill="#e4000f"/>
<circle cx="438.4" cy="252.4" r="1.95" fill="#e4000f"/>
<circle cx="431.9" cy="255.3" r="1.95" fill="#e4000f"/>
<circle cx="435.4" cy="255.3" r="1.95" fill="#e4000f"/>
<circle cx="438.9" cy="255.3" r="1.95" fill="#e4000f"/>
<circle cx="431.4" cy="258.2" r="1.95" fill="#e4000f"/>
<circle cx="434.9" cy="258.2" r="1.95" fill="#e4000f"/>
<circle cx="438.4" cy="258.2" r="1.95" fill="#e4000f"/>
<circle cx="441.9" cy="258.2" r="1.95" fill="#e4000f"/>
<circle cx="428.4" cy="261.1" r="1.95" fill="#e4000f"/>
<circle cx="431.9" cy="261.1" r="1.95" fill="#e4000f"/>
<circle cx="435.4" cy="261.1" r="1.95" fill="#e4000f"/>
<circle cx="438.9" cy="261.1" r="1.95" fill="#e4000f"/>
<circle cx="442.4" cy="261.1" r="1.95" fill="#e4000f"/>
<circle cx="429.6" cy="264.0" r="1.95" fill="#e4000f"/>
<circle cx="433.1" cy="264.0" r="1.95" fill="#e4000f"/>
<circle cx="436.6" cy="264.0" r="1.95" fill="#e4000f"/>
<circle cx="440.1" cy="264.0" r="1.95" fill="#e4000f"/>
<circle cx="443.6" cy="264.0" r="1.95" fill="#e4000f"/>
<circle cx="465.5" cy="208.3" r="1.95" fill="#e4000f"/>
<circle cx="465.5" cy="214.5" r="1.95" fill="#e4000f"/>
<circle cx="460.4" cy="224.6" r="1.95" fill="#e4000f"/>
<circle cx="460.4" cy="226.5" r="1.95" fill="#e4000f"/>
<circle cx="465.5" cy="227.3" r="1.95" fill="#e4000f"/>
<circle cx="470.6" cy="225.8" r="1.95" fill="#e4000f"/>
<circle cx="470.6" cy="231.5" r="1.95" fill="#e4000f"/>
<circle cx="465.5" cy="236.0" r="1.95" fill="#e4000f"/>
<circle cx="460.4" cy="240.3" r="1.95" fill="#e4000f"/>
<circle cx="470.6" cy="240.3" r="1.95" fill="#e4000f"/>
<circle cx="465.5" cy="244.5" r="1.95" fill="#e4000f"/>
<circle cx="468.1" cy="248.0" r="1.95" fill="#e4000f"/>
<circle cx="460.4" cy="252.2" r="1.95" fill="#e4000f"/>
<circle cx="465.5" cy="253.0" r="1.95" fill="#e4000f"/>
<circle cx="470.6" cy="252.5" r="1.95" fill="#e4000f"/>
<circle cx="460.4" cy="258.4" r="1.95" fill="#e4000f"/>
<circle cx="462.5" cy="257.1" r="1.95" fill="#e4000f"/>
<circle cx="468.1" cy="257.8" r="1.95" fill="#e4000f"/>
<circle cx="470.6" cy="257.6" r="1.95" fill="#e4000f"/>
<circle cx="473.3" cy="256.8" r="1.95" fill="#e4000f"/>
<circle cx="460.4" cy="262.5" r="1.95" fill="#e4000f"/>
<circle cx="460.4" cy="264.2" r="1.95" fill="#e4000f"/>
<circle cx="465.5" cy="260.9" r="1.95" fill="#e4000f"/>
<circle cx="468.1" cy="262.5" r="1.95" fill="#e4000f"/>
<circle cx="470.6" cy="264.5" r="1.95" fill="#e4000f"/>
<circle cx="465.5" cy="266.5" r="1.95" fill="#e4000f"/>
<circle cx="468.1" cy="268.6" r="1.95" fill="#e4000f"/>
<circle cx="470.6" cy="271.1" r="1.95" fill="#e4000f"/>
<circle cx="460.4" cy="269.9" r="1.95" fill="#e4000f"/>
<circle cx="460.4" cy="273.0" r="1.95" fill="#e4000f"/>
<circle cx="465.5" cy="273.0" r="1.95" fill="#e4000f"/>
<circle cx="468.1" cy="275.1" r="1.95" fill="#e4000f"/>
<circle cx="460.4" cy="277.4" r="1.95" fill="#e4000f"/>
<circle cx="460.4" cy="280.1" r="1.95" fill="#e4000f"/>
<circle cx="465.5" cy="279.3" r="1.95" fill="#e4000f"/>
<circle cx="470.6" cy="278.8" r="1.95" fill="#e4000f"/>
<circle cx="470.6" cy="281.1" r="1.95" fill="#e4000f"/>
<circle cx="460.4" cy="284.7" r="1.95" fill="#e4000f"/>
<circle cx="465.5" cy="285.1" r="1.95" fill="#e4000f"/>
<circle cx="468.1" cy="287.0" r="1.95" fill="#e4000f"/>
<circle cx="460.4" cy="290.3" r="1.95" fill="#e4000f"/>
<circle cx="460.4" cy="293.5" r="1.95" fill="#e4000f"/>
<circle cx="465.5" cy="292.4" r="1.95" fill="#e4000f"/>
<circle cx="470.6" cy="292.2" r="1.95" fill="#e4000f"/>
<circle cx="465.5" cy="298.5" r="1.95" fill="#e4000f"/>
<circle cx="465.5" cy="305.5" r="1.95" fill="#e4000f"/>
<circle cx="470.6" cy="304.5" r="1.95" fill="#e4000f"/>
<circle cx="494.8" cy="231.0" r="1.95" fill="#e4000f"/>
<circle cx="494.8" cy="256.2" r="1.95" fill="#e4000f"/>
<circle cx="489.4" cy="262.6" r="1.95" fill="#e4000f"/>
<circle cx="489.4" cy="265.4" r="1.95" fill="#e4000f"/>
<circle cx="499.8" cy="262.9" r="1.95" fill="#e4000f"/>
<circle cx="494.8" cy="266.8" r="1.95" fill="#e4000f"/>
<circle cx="499.8" cy="267.5" r="1.95" fill="#e4000f"/>
<circle cx="494.8" cy="272.2" r="1.95" fill="#e4000f"/>
<circle cx="497.1" cy="274.0" r="1.95" fill="#e4000f"/>
<circle cx="489.4" cy="275.4" r="1.95" fill="#e4000f"/>
<circle cx="489.4" cy="277.5" r="1.95" fill="#e4000f"/>
<circle cx="494.8" cy="278.5" r="1.95" fill="#e4000f"/>
<circle cx="499.8" cy="277.3" r="1.95" fill="#e4000f"/>
<circle cx="489.4" cy="285.8" r="1.95" fill="#e4000f"/>
<circle cx="491.9" cy="284.5" r="1.95" fill="#e4000f"/>
<circle cx="497.1" cy="284.6" r="1.95" fill="#e4000f"/>
<circle cx="499.8" cy="286.2" r="1.95" fill="#e4000f"/>
<circle cx="491.9" cy="288.8" r="1.95" fill="#e4000f"/>
<circle cx="494.8" cy="288.1" r="1.95" fill="#e4000f"/>
<circle cx="489.4" cy="291.5" r="1.95" fill="#e4000f"/>
<circle cx="489.4" cy="293.8" r="1.95" fill="#e4000f"/>
<circle cx="494.8" cy="293.2" r="1.95" fill="#e4000f"/>
<circle cx="497.1" cy="290.8" r="1.95" fill="#e4000f"/>
<circle cx="499.8" cy="292.2" r="1.95" fill="#e4000f"/>
<circle cx="489.4" cy="300.4" r="1.95" fill="#e4000f"/>
<circle cx="494.8" cy="299.2" r="1.95" fill="#e4000f"/>
<circle cx="499.8" cy="299.2" r="1.95" fill="#e4000f"/>
<circle cx="489.4" cy="302.8" r="1.95" fill="#e4000f"/>
<circle cx="489.4" cy="306.5" r="1.95" fill="#e4000f"/>
<circle cx="494.8" cy="305.8" r="1.95" fill="#e4000f"/>
<circle cx="499.8" cy="303.7" r="1.95" fill="#e4000f"/>
<circle cx="494.8" cy="311.9" r="1.95" fill="#e4000f"/>
<circle cx="499.8" cy="311.5" r="1.95" fill="#e4000f"/>
<line x1="425.9" y1="266.2" x2="446.5" y2="266.2" stroke="#111" stroke-width="1.3" />
<line x1="455.2" y1="262.7" x2="475.8" y2="262.7" stroke="#111" stroke-width="1.3" />
<line x1="484.6" y1="284.8" x2="505.4" y2="284.8" stroke="#111" stroke-width="1.3" />
<polyline points="433.5,206 433.5,193.1 462.7,193.1 462.7,198.5" fill="none" stroke="#888" stroke-width="0.9"/>
<text x="448.3" y="190.8" font-size="7.5" text-anchor="middle" fill="#333" font-weight="normal" >ns</text>
<polyline points="466.2,198.5 466.2,195 495.4,195 495.4,208.5" fill="none" stroke="#888" stroke-width="0.9"/>
<text x="481.1" y="195.79999999999998" font-size="9.5" text-anchor="middle" fill="#222" font-weight="bold" letter-spacing="1.1">***</text>
<text x="0" y="0" font-size="9.3" text-anchor="middle" fill="#111" font-weight="normal" transform="translate(372.2,258) rotate(-90)">Total track length (&#956;m)</text>
<text x="451.3" y="351.3" font-size="9.1" text-anchor="middle" fill="#111" font-weight="normal" >ICAM-1 density (molec/&#956;m<tspan font-size="6" dy="-3">2</tspan><tspan dy="3">)</tspan></text>
<line x1="27.3" y1="456.8" x2="186.5" y2="456.8" stroke="#555" stroke-width="1.0" />
<line x1="106.8" y1="377.3" x2="106.8" y2="536.3" stroke="#555" stroke-width="1.0" />
<line x1="27.3" y1="455.6" x2="27.3" y2="458" stroke="#555" stroke-width="0.8" />
<line x1="186.5" y1="455.6" x2="186.5" y2="458" stroke="#555" stroke-width="0.8" />
<line x1="105.6" y1="377.3" x2="108" y2="377.3" stroke="#555" stroke-width="0.8" />
<line x1="105.6" y1="536.3" x2="108" y2="536.3" stroke="#555" stroke-width="0.8" />
<line x1="45.0" y1="455.6" x2="45.0" y2="458" stroke="#555" stroke-width="0.8" />
<line x1="168.8" y1="455.6" x2="168.8" y2="458" stroke="#555" stroke-width="0.8" />
<line x1="105.6" y1="395.0" x2="108" y2="395.0" stroke="#555" stroke-width="0.8" />
<line x1="105.6" y1="518.5999999999999" x2="108" y2="518.5999999999999" stroke="#555" stroke-width="0.8" />
<line x1="62.7" y1="455.6" x2="62.7" y2="458" stroke="#555" stroke-width="0.8" />
<line x1="151.1" y1="455.6" x2="151.1" y2="458" stroke="#555" stroke-width="0.8" />
<line x1="105.6" y1="412.7" x2="108" y2="412.7" stroke="#555" stroke-width="0.8" />
<line x1="105.6" y1="500.9" x2="108" y2="500.9" stroke="#555" stroke-width="0.8" />
<line x1="80.39999999999999" y1="455.6" x2="80.39999999999999" y2="458" stroke="#555" stroke-width="0.8" />
<line x1="133.4" y1="455.6" x2="133.4" y2="458" stroke="#555" stroke-width="0.8" />
<line x1="105.6" y1="430.4" x2="108" y2="430.4" stroke="#555" stroke-width="0.8" />
<line x1="105.6" y1="483.19999999999993" x2="108" y2="483.19999999999993" stroke="#555" stroke-width="0.8" />
<line x1="98.1" y1="455.6" x2="98.1" y2="458" stroke="#555" stroke-width="0.8" />
<line x1="115.7" y1="455.6" x2="115.7" y2="458" stroke="#555" stroke-width="0.8" />
<line x1="105.6" y1="448.1" x2="108" y2="448.1" stroke="#555" stroke-width="0.8" />
<line x1="105.6" y1="465.49999999999994" x2="108" y2="465.49999999999994" stroke="#555" stroke-width="0.8" />
<path d="M106.4,457.1 L106.1,453.0 L104.9,449.5 L104.2,446.3 L104.9,442.2 L107.0,439.3 L108.3,435.5 L107.4,433.2 L106.7,430.4 L106.9,426.5 L104.2,425.0 L103.3,422.9 L100.7,420.9 L99.3,419.2 L98.5,417.9 L97.0,416.0 L97.6,413.8 L98.2,410.8 L99.3,408.9 L99.0,406.6 L99.2,405.3 L98.1,402.8 L97.4,401.2 L96.2,398.9 L94.7,397.2 L93.1,397.9 L92.5,399.0 L91.0,399.6 L88.9,400.1 L88.0,401.1 L85.7,402.0 L84.2,403.3 L81.9,404.3 L80.0,405.8 L78.0,406.2 L76.0,406.7 L73.5,408.2 L72.5,409.1 L69.9,409.7 L68.0,411.5 L66.3,412.0 L64.4,412.7 L62.0,414.5 L60.4,415.3 L58.4,416.7 L57.5,417.5 L56.0,419.4 L54.7,420.4 L53.3,421.3 L51.4,421.0 L49.2,421.1 L48.1,420.2 L46.8,420.4 L45.5,420.2 L44.4,420.4 L44.0,418.8 L43.0,417.2 L42.7,416.1 L42.8,415.5 L42.2,414.6 L41.1,413.8 L42.1,412.6 L42.1,412.1 L43.5,411.9 L42.4,413.1 L42.2,413.3 L42.0,414.5" fill="none" stroke="#4f7fd6" stroke-width="0.8" stroke-linejoin="round"/>
<path d="M107.5,457.5 L107.7,454.2 L110.5,453.4 L112.3,451.7 L114.2,451.2 L116.6,450.0 L118.9,449.8 L121.9,449.8 L124.7,448.1 L125.9,447.1 L127.3,446.2 L130.4,445.7 L132.8,445.6 L135.5,444.8 L137.6,443.7 L140.2,443.4 L143.0,444.3 L145.8,443.0 L148.6,444.0 L150.4,443.4 L152.4,442.5 L153.8,443.0 L156.7,442.0 L158.2,442.9 L159.4,442.7 L159.6,445.5 L159.7,447.0" fill="none" stroke="#d632d6" stroke-width="0.8" stroke-linejoin="round"/>
<path d="M106.3,458.9 L107.0,461.4 L107.8,462.8 L107.1,466.6 L106.6,468.2 L106.9,471.3 L105.6,474.0 L105.6,476.0 L105.9,480.0 L106.0,482.4 L105.3,483.2 L104.5,486.2 L102.6,487.2 L102.0,489.3 L100.1,491.3 L98.4,492.8 L97.1,494.2 L96.6,496.1 L96.7,496.3 L96.0,498.2 L98.2,500.2 L98.2,501.6 L99.7,502.6 L101.1,503.8 L103.2,505.2 L105.0,504.8 L107.0,504.4 L108.3,502.4 L110.3,502.8 L112.1,501.1 L113.4,499.5 L114.1,498.5 L113.7,495.9 L115.2,495.9 L112.7,494.2 L112.0,491.7 L110.6,491.5 L110.0,490.5 L107.9,490.8 L106.4,491.7 L106.0,491.9 L104.7,490.9 L104.0,489.0" fill="none" stroke="#e33a2a" stroke-width="0.8" stroke-linejoin="round"/>
<path d="M104.4,462.2 L101.7,463.3 L98.2,464.8 L96.7,466.5 L93.8,466.2 L90.7,467.0 L87.5,467.4 L85.5,469.4 L84.5,469.8 L82.5,469.5 L81.3,474.4 L81.6,479.0 L81.4,482.0 L81.4,485.4 L81.6,487.1 L82.0,489.3 L82.3,493.3 L81.3,495.0 L81.5,498.1 L79.9,500.1 L77.7,501.0 L76.4,502.6 L74.8,504.2 L74.9,505.5 L72.8,508.2 L72.8,509.7 L72.8,511.1 L73.3,512.5 L72.9,513.4 L73.7,514.3 L73.8,515.9 L74.2,513.8 L75.6,511.2 L74.8,509.6 L75.9,508.8 L75.0,506.9 L74.9,505.7 L73.9,503.5 L74.4,501.3 L73.4,498.7 L71.2,496.5 L71.7,496.1 L69.9,495.2 L69.2,494.1 L67.6,492.3 L66.9,491.9" fill="none" stroke="#e8706a" stroke-width="0.8" stroke-linejoin="round"/>
<path d="M104.0,460.1 L101.3,460.2 L98.3,459.9 L94.3,459.0 L93.3,459.0 L90.9,458.1 L88.0,458.1 L86.2,458.7 L83.5,458.3 L82.0,459.4 L81.2,460.4 L79.8,462.4 L78.2,464.5 L76.0,467.5 L74.9,468.6 L74.7,471.5 L72.4,473.0 L71.4,473.9 L69.6,475.6 L68.6,476.7 L67.2,476.7 L64.8,477.5 L63.1,478.5 L61.9,480.3 L60.8,481.2" fill="none" stroke="#3aa0a8" stroke-width="0.8" stroke-linejoin="round"/>
<path d="M103.3,462.3 L99.2,461.2 L94.8,461.5 L92.0,461.4 L89.5,461.8 L87.0,462.1 L85.4,461.9 L83.7,463.0 L81.7,463.6 L81.3,463.8 L81.7,467.1 L82.2,469.1 L81.3,472.5 L83.1,474.6 L82.6,476.8 L84.0,479.7 L84.5,482.1 L83.3,484.1 L83.6,486.5 L83.2,487.6 L81.5,489.6 L80.5,491.8 L78.5,492.1 L78.6,493.4 L77.7,495.0" fill="none" stroke="#62b0e6" stroke-width="0.8" stroke-linejoin="round"/>
<path d="M106.5,454.2 L108.6,451.7 L110.1,449.8 L110.8,447.0 L112.3,443.9 L113.8,441.3 L115.9,440.5 L116.4,436.7 L118.2,434.9 L119.6,432.4 L121.8,430.3 L123.0,429.7 L123.2,428.4 L123.6,427.5 L123.5,425.1 L123.2,424.3 L122.1,423.3 L122.8,424.5 L125.0,426.0" fill="none" stroke="#e6a050" stroke-width="0.8" stroke-linejoin="round"/>
<path d="M106.5,453.4 L105.4,451.1 L104.4,448.6 L104.6,446.7 L104.8,444.6 L105.3,442.3 L105.6,440.4 L106.2,437.3 L106.8,435.1 L107.9,433.5 L108.5,430.5 L109.0,429.6 L109.5,427.1 L108.9,425.9 L107.8,424.6 L107.0,423.2 L108.1,421.6 L107.9,419.5 L109.5,418.5 L110.0,418.7 L111.8,418.1 L113.5,417.2 L113.5,418.8 L113.9,419.5 L114.5,420.2 L114.6,421.7 L114.1,422.3 L112.6,423.1 L111.9,423.7 L110.2,424.3 L109.5,424.2 L109.7,425.4 L109.9,427.1 L111.0,429.0" fill="none" stroke="#3fcf3f" stroke-width="0.8" stroke-linejoin="round"/>
<path d="M100.7,454.6 L98.3,454.5 L96.1,452.9 L95.6,451.3 L93.4,450.9 L90.9,449.1 L90.3,447.9 L89.0,446.1 L86.9,444.7 L86.0,444.7 L85.5,442.4 L84.5,440.4 L83.4,437.7 L84.9,436.4 L85.2,433.3 L85.6,431.5 L87.0,431.5 L88.2,430.6 L90.6,428.3 L90.8,429.7 L91.2,430.2 L93.7,430.4 L93.8,432.1 L94.5,435.0 L94.5,435.2 L93.3,438.1 L92.2,439.3 L92.0,442.7 L92.5,443.8 L93.6,445.3 L94.0,448.0" fill="none" stroke="#9068b0" stroke-width="0.8" stroke-linejoin="round"/>
<path d="M103.9,456.7 L102.0,456.0 L100.3,456.3 L98.2,455.1 L96.0,455.5 L93.7,456.4 L92.6,455.5 L91.1,455.5 L89.2,454.4 L88.2,453.9 L87.6,455.2 L86.2,456.3 L86.6,457.6 L87.5,457.5 L88.1,458.6 L90.5,459.8 L91.8,460.1 L93.8,459.4 L96.0,459.0" fill="none" stroke="#f07830" stroke-width="0.8" stroke-linejoin="round"/>
<path d="M108.7,460.9 L110.4,461.2 L110.9,461.7 L111.6,462.0 L113.5,463.7 L114.2,464.4 L115.5,466.4 L117.6,466.8 L119.2,469.2 L120.2,470.1 L120.6,468.1 L122.0,466.8 L122.6,465.7 L123.2,464.1 L124.5,462.7 L125.4,460.6 L124.4,462.4 L123.3,463.7 L122.9,466.4 L121.3,468.1 L119.2,469.6 L117.7,471.5 L116.7,473.2 L115.1,474.5 L113.0,476.0" fill="none" stroke="#5868a0" stroke-width="0.8" stroke-linejoin="round"/>
<path d="M107.8,454.0 L108.7,452.8 L108.7,452.4 L109.7,452.4 L111.6,451.5 L112.7,450.9 L113.6,449.9 L114.6,449.8 L115.5,449.0 L116.5,448.2 L117.8,447.6 L119.4,446.8 L119.5,447.5 L120.7,447.2 L121.9,448.9 L121.5,448.9 L120.6,449.4 L120.1,449.9 L119.2,450.5 L117.6,450.7 L116.9,449.6 L116.0,449.0" fill="none" stroke="#e52a20" stroke-width="1.0" stroke-linejoin="round"/>
<path d="M104.5,461.0 L103.4,464.3 L101.2,466.6 L99.6,469.7 L98.9,472.9 L97.4,476.3 L95.8,479.9 L95.9,481.8 L94.5,483.1 L94.2,485.4 L95.8,486.6 L96.6,487.8 L97.5,489.2 L98.4,488.6 L100.3,487.9 L102.1,486.9 L101.2,485.6 L100.4,483.9 L100.4,483.4 L99.2,483.9 L97.4,484.6 L96.0,485.0" fill="none" stroke="#50b050" stroke-width="0.8" stroke-linejoin="round"/>
<path d="M100.0,448.0 L98.2,448.7 L97.6,447.7 L97.6,446.8 L96.9,446.3 L96.6,445.5 L97.2,445.3 L97.4,444.6 L98.3,444.1 L99.1,443.6 L100.2,443.5 L100.7,442.4 L100.4,441.8 L101.6,440.9 L103.4,441.0 L104.4,440.6 L105.2,439.8 L105.7,439.9 L107.0,440.0 L107.1,439.5 L107.5,439.8 L108.0,440.3 L107.4,439.8 L106.7,439.9 L105.2,439.6 L103.7,439.7 L102.5,439.9 L102.1,439.0 L103.6,439.0 L104.1,439.3 L104.1,438.8 L102.9,437.4 L104.5,437.8 L103.3,437.0 L104.9,436.8 L105.4,437.4 L106.7,436.4 L108.0,437.6 L109.5,438.6 L108.1,437.4 L108.8,438.0 L107.7,437.3 L107.6,436.3 L106.6,436.3 L106.2,435.9 L106.7,436.6 L107.1,436.0 L107.6,437.7 L108.0,438.2 L108.5,439.9 L107.9,438.6 L108.5,439.6 L109.1,441.2 L109.7,440.5 L110.5,441.5 L111.1,442.3 L110.6,443.2 L109.3,444.3 L108.9,444.8 L108.9,445.4 L109.4,445.0 L109.4,443.9 L109.0,442.5 L110.3,441.7 L110.0,440.3 L110.2,439.6 L111.1,439.2 L111.9,440.5 L111.8,439.4 L111.5,438.5 L110.9,438.4" fill="none" stroke="#e02a20" stroke-width="0.55" stroke-linejoin="round"/>
<path d="M100.0,436.0 L100.1,436.8 L99.4,437.9 L99.2,439.3 L99.0,439.9 L98.3,441.1 L97.2,442.5 L96.2,442.4 L96.0,443.1 L94.6,442.6 L93.7,441.9 L93.0,441.3 L92.5,440.8 L91.9,439.5 L91.9,438.7 L90.9,438.7 L90.3,437.6 L90.5,436.5 L90.4,434.7 L89.8,435.2 L88.4,435.2 L87.5,436.2 L87.0,437.5 L87.3,435.9 L88.0,434.9 L89.1,434.7 L90.9,434.9 L91.8,435.4 L92.5,436.6 L91.3,437.3 L89.5,438.0 L88.5,438.1 L89.1,436.4 L88.7,435.9 L89.6,434.4 L89.8,433.5 L91.0,432.1 L90.2,431.3 L90.6,430.6 L90.6,429.8 L90.2,429.1 L90.0,430.1 L90.3,430.7 L91.3,431.2 L92.9,431.4 L93.7,431.3 L94.2,430.5 L95.0,430.3 L96.6,429.7 L97.6,430.3 L97.9,431.7 L98.4,432.1 L99.9,431.5 L101.0,430.2 L102.0,431.7 L102.4,432.1 L103.2,432.1 L104.4,433.0 L103.9,434.4 L102.5,434.7 L100.8,435.1 L99.7,436.3 L98.0,436.6 L98.0,437.4 L97.3,437.5 L96.0,437.9 L94.3,438.4 L94.1,437.4 L92.2,437.5 L91.4,437.7 L91.6,438.2" fill="none" stroke="#30c030" stroke-width="0.55" stroke-linejoin="round"/>
<path d="M84.0,442.0 L85.5,441.5 L86.2,441.8 L87.0,440.7 L86.5,439.7 L87.7,438.4 L87.3,437.9 L85.6,437.8 L85.4,438.6 L86.0,439.0 L86.6,439.5 L88.0,440.1 L88.5,441.2 L87.7,442.3 L86.9,442.2 L85.6,442.7 L84.9,441.5 L84.3,440.8 L83.5,440.7 L83.9,439.0 L85.2,438.8 L86.0,439.2 L86.7,439.6 L87.6,439.7 L88.2,438.0 L86.7,437.1 L86.5,436.5 L85.8,434.7 L87.1,434.9 L88.0,436.1 L89.3,436.5 L90.2,437.1 L90.2,438.2 L89.8,438.7 L89.5,439.2 L88.1,440.3 L87.0,441.1 L86.2,441.2 L85.0,441.9 L84.0,442.0 L83.0,442.1 L81.5,441.9 L80.4,442.9 L79.8,441.8 L80.5,441.1 L81.2,441.2 L82.9,440.8 L83.0,439.4 L84.8,438.7 L85.8,438.9 L87.1,438.3 L86.9,437.8 L88.1,437.1 L87.7,436.0 L86.1,435.3 L84.6,435.7 L83.9,435.1 L82.7,435.6 L81.7,436.5 L81.1,438.0 L81.1,438.7 L79.4,439.5 L78.5,438.5 L79.8,437.2 L78.7,437.7 L79.2,438.6 L80.2,439.3 L81.1,440.7 L81.6,440.9 L81.1,442.5 L80.7,443.1" fill="none" stroke="#9068b0" stroke-width="0.55" stroke-linejoin="round"/>
<path d="M88.0,458.0 L88.9,459.3 L89.9,459.2 L91.1,460.4 L91.4,459.7 L92.0,460.0 L92.3,461.0 L91.7,462.6 L90.9,463.4 L91.4,464.7 L90.5,465.4 L89.9,466.5 L90.7,466.3 L91.3,466.3 L92.0,467.8 L91.1,467.8 L89.3,468.2 L89.1,470.2 L90.7,469.5 L91.1,468.1 L92.0,467.2 L93.6,466.3 L92.9,466.5 L92.3,466.6 L91.6,466.9 L93.0,466.5 L93.2,465.8 L92.2,464.4 L91.6,464.1 L90.4,463.1 L89.7,462.0 L88.9,460.7 L87.4,459.8 L86.6,458.3 L87.8,457.0 L88.7,456.1 L90.0,456.2 L89.6,454.4 L88.4,454.1 L87.8,454.1 L86.5,453.6 L87.1,452.3 L86.0,451.5 L87.4,451.7 L87.7,452.1 L88.0,452.9 L88.9,453.4 L89.3,452.9 L88.7,452.4 L87.1,452.7 L86.8,453.4 L87.5,454.4 L88.8,454.7 L89.4,454.1 L89.8,453.7 L90.8,454.5 L92.0,454.9 L91.9,456.1 L92.0,457.0 L92.9,458.3 L93.0,459.2 L92.4,459.6 L91.4,460.9 L90.2,460.6 L89.9,461.9 L89.9,462.5 L91.4,463.5 L91.6,462.8 L91.1,461.2 L90.1,460.1 L90.0,459.6" fill="none" stroke="#f09040" stroke-width="0.55" stroke-linejoin="round"/>
<path d="M118.0,448.0 L118.3,446.4 L119.2,446.6 L119.5,447.5 L120.5,447.3 L120.9,448.0 L120.8,449.0 L121.9,449.0 L122.8,448.2 L122.3,450.0 L124.1,449.1 L124.6,451.0 L123.7,451.8 L124.1,453.6 L122.6,453.7 L121.9,455.2 L120.2,455.7 L118.8,454.4 L118.4,453.4 L118.0,452.2 L118.3,450.8 L119.4,450.3 L121.3,450.1 L120.9,451.9 L120.3,452.2 L119.6,452.8 L120.3,452.9 L120.8,451.8 L122.5,451.4 L121.2,451.9 L121.9,451.5 L121.9,449.8 L121.3,448.3 L120.7,447.1 L121.5,445.9 L120.6,444.9 L118.9,444.0 L118.0,444.1 L117.6,443.1 L116.0,443.4 L115.6,442.2 L113.9,442.2 L113.1,442.7 L113.6,444.4 L114.2,444.8 L115.7,445.1 L115.5,445.9 L115.1,446.7 L113.9,446.5 L112.8,445.2 L112.1,444.2 L111.7,444.8 L110.2,445.3 L109.6,445.2 L109.5,443.5 L110.9,442.7 L111.9,442.5 L112.6,442.0 L113.5,441.9 L114.2,442.4 L114.9,442.3 L116.1,441.2 L117.8,441.9 L117.7,440.4 L118.1,439.4 L119.1,440.5 L120.8,440.6 L122.0,440.3 L123.1,439.8 L121.4,439.4 L120.3,439.7" fill="none" stroke="#e04848" stroke-width="0.55" stroke-linejoin="round"/>
<path d="M116.0,436.0 L116.5,435.8 L117.6,437.0 L119.0,436.1 L119.8,436.4 L119.3,437.3 L118.8,438.7 L117.4,439.5 L117.3,440.7 L118.2,440.8 L118.8,440.8 L120.4,440.1 L120.6,439.0 L119.4,438.0 L118.7,438.3 L117.6,438.0 L116.4,437.3 L115.4,436.8 L114.9,437.4 L115.3,438.2 L116.8,439.1 L117.5,438.9 L117.9,438.4 L119.8,438.4 L120.6,440.1 L120.8,441.3 L122.1,442.0 L122.9,441.0 L123.5,439.7 L123.6,441.1 L124.2,439.9 L125.5,439.9 L125.4,439.2 L125.3,437.7 L125.1,436.1 L125.0,434.4 L123.8,433.2 L123.9,432.5 L123.1,432.0 L124.0,430.8 L122.4,430.4 L120.7,430.7 L120.2,431.1 L119.5,432.0 L118.9,433.2 L119.4,434.0 L121.0,432.9 L121.8,432.3 L120.8,431.3 L120.2,431.6 L118.9,431.7 L117.5,430.7 L115.9,430.9 L116.1,429.2 L117.1,428.0 L116.5,428.5 L115.4,429.2 L114.3,429.6 L114.1,430.5 L114.7,431.9 L116.0,432.9 L116.8,433.6 L117.7,435.1 L118.2,435.4 L118.2,436.3 L117.0,436.6 L115.6,437.5 L116.3,439.1 L117.9,439.7 L116.8,441.0 L117.2,442.8" fill="none" stroke="#e8a040" stroke-width="0.55" stroke-linejoin="round"/>
<path d="M103.0,468.0 L102.5,469.8 L101.5,470.5 L101.5,471.2 L100.2,470.2 L98.9,470.7 L97.6,469.4 L97.0,470.2 L98.2,471.0 L96.8,470.1 L97.6,470.8 L98.4,470.7 L99.1,470.6 L99.8,470.1 L101.1,468.9 L101.3,467.5 L101.1,466.6 L99.9,465.4 L100.6,464.0 L102.1,464.0 L102.8,463.5 L104.1,462.9 L105.6,463.9 L105.7,465.8 L105.1,467.2 L103.9,467.4 L102.5,466.4 L101.7,465.8 L100.3,465.4 L99.3,464.8 L97.7,464.8 L96.9,463.1 L97.4,462.9 L98.7,462.0 L99.9,461.3 L99.8,460.2 L101.3,460.1 L102.6,461.4 L102.4,463.1 L100.7,463.6 L100.6,462.5 L100.1,461.5 L101.5,460.3 L102.7,460.2 L102.1,459.8 L101.6,460.3 L101.9,461.4 L103.1,462.8 L103.8,462.6 L104.8,464.2 L105.4,465.3 L106.4,465.8 L107.0,465.4 L107.1,467.2 L106.5,467.6 L105.9,467.7 L105.3,467.5 L104.7,467.1 L105.5,465.4 L105.8,463.6 L106.6,463.5 L107.2,465.2 L108.6,465.5 L108.9,465.0 L109.1,464.3 L109.9,465.6 L110.1,464.6 L109.2,464.0 L108.1,462.7 L109.3,463.4 L111.0,463.7" fill="none" stroke="#3850e0" stroke-width="0.55" stroke-linejoin="round"/>
<path d="M108.0,470.0 L107.3,471.6 L107.3,472.6 L107.9,472.8 L108.5,472.2 L109.1,472.8 L110.6,471.6 L110.7,472.3 L112.4,473.2 L113.4,472.3 L113.3,473.7 L113.3,472.2 L114.4,472.7 L115.0,471.3 L113.9,472.9 L115.0,474.1 L116.8,474.7 L115.7,475.3 L114.0,474.9 L113.0,475.3 L112.2,475.0 L110.9,474.5 L109.3,474.4 L108.4,475.5 L107.9,475.8 L106.3,475.4 L105.9,474.7 L105.6,474.1 L105.7,472.7 L106.3,472.4 L106.6,471.8 L108.0,472.1 L108.8,470.7 L109.2,469.7 L110.7,469.5 L111.6,469.4 L112.3,468.5 L111.8,467.9 L111.0,466.2 L110.9,465.1 L109.0,465.1 L108.2,465.4 L106.4,465.1 L106.0,465.5 L105.8,467.5 L105.8,468.1 L105.1,469.2 L105.5,469.7 L107.1,470.7 L108.9,471.2 L109.9,471.0 L109.7,469.6 L108.1,468.7 L107.8,468.2 L107.4,467.1 L108.0,465.8 L106.8,465.4 L106.4,465.0 L107.9,464.5 L107.5,464.0 L106.2,463.5 L105.9,462.9 L107.0,462.1 L105.8,462.3 L104.3,461.9 L103.9,462.4 L102.1,463.0 L100.3,463.1 L99.6,463.5 L99.5,462.6 L101.0,462.2" fill="none" stroke="#8a40c8" stroke-width="0.55" stroke-linejoin="round"/>
<path d="M110.0,470.0 L110.2,471.3 L111.4,471.4 L111.0,472.6 L110.4,474.2 L110.5,475.1 L109.9,474.7 L109.5,473.0 L109.2,471.7 L108.5,471.7 L107.7,470.4 L107.5,469.7 L108.3,467.9 L109.7,467.6 L110.8,467.1 L110.8,466.6 L111.9,466.6 L113.0,466.2 L113.7,467.9 L113.3,469.5 L112.8,470.8 L111.3,471.1 L111.8,472.2 L111.8,473.6 L110.3,473.0 L109.1,472.9 L108.2,471.6 L107.3,471.1 L106.6,470.1 L106.5,468.3 L106.0,467.1 L105.0,468.4 L104.5,467.1 L104.2,467.7 L104.4,468.6 L103.2,469.2 L103.7,467.4 L103.2,466.8 L103.6,465.7 L104.6,465.2 L105.6,463.6 L107.1,462.9 L108.9,463.0 L109.4,463.4 L109.9,463.3 L111.1,463.8 L111.5,464.3 L113.2,464.4 L113.9,464.7 L114.6,463.2 L115.2,463.6 L115.1,464.2 L115.2,465.7 L114.1,467.0 L114.7,467.7 L115.2,467.3 L115.9,467.4 L117.4,466.9 L117.8,468.2 L117.4,469.5 L118.1,470.0 L117.4,470.5 L116.8,470.4 L115.4,470.7 L114.4,472.4 L112.9,473.3 L111.1,473.2 L111.5,474.2 L112.5,474.1 L112.9,473.5 L114.0,472.0" fill="none" stroke="#c83030" stroke-width="0.55" stroke-linejoin="round"/>
<path d="M92.0,472.0 L93.2,470.8 L93.1,469.6 L92.1,468.8 L91.2,469.6 L91.0,470.1 L89.2,470.6 L89.1,472.0 L88.8,473.1 L88.1,474.3 L88.5,475.3 L89.2,477.1 L87.8,476.3 L86.0,475.7 L86.5,474.0 L85.8,473.2 L85.4,474.3 L85.3,473.0 L84.6,472.7 L85.3,474.2 L84.8,472.5 L85.2,473.3 L86.4,473.7 L87.5,473.3 L88.8,472.8 L90.0,472.4 L89.8,470.5 L89.1,468.9 L88.5,468.7 L89.5,468.0 L88.6,466.4 L89.2,466.3 L89.7,466.9 L90.4,466.9 L91.3,468.0 L92.1,469.3 L92.6,469.5 L93.0,468.8 L93.5,468.4 L92.8,468.0 L92.4,468.5 L92.6,469.1 L93.7,470.5 L93.8,471.0 L94.8,471.0 L95.9,470.7 L97.4,470.7 L98.0,471.3 L99.3,469.8 L100.8,468.8 L100.4,470.5 L99.6,471.8 L99.5,472.6 L99.8,473.4 L99.8,472.7 L99.4,472.3 L97.9,472.0 L96.7,473.0 L96.0,473.2 L94.7,473.6 L93.7,472.6 L93.1,472.7 L92.9,473.4 L91.2,473.7 L91.3,475.3 L90.5,475.3 L89.6,475.3 L88.1,475.8 L88.6,476.9 L87.9,478.5 L87.2,476.9" fill="none" stroke="#24a0a0" stroke-width="0.55" stroke-linejoin="round"/>
<path d="M100.0,482.0 L99.1,480.4 L98.6,479.4 L98.5,478.7 L97.5,478.2 L96.1,478.9 L95.4,479.6 L95.4,480.5 L94.0,481.7 L93.9,483.4 L94.9,484.6 L96.2,484.7 L98.0,484.5 L98.4,485.0 L99.4,484.3 L99.6,483.5 L101.5,483.7 L101.5,483.1 L102.2,481.4 L103.5,482.2 L103.1,483.4 L102.5,485.0 L103.5,483.9 L104.0,484.4 L103.4,484.9 L101.8,484.5 L100.5,484.3 L100.1,483.3 L98.8,482.6 L98.8,481.8 L99.5,481.1 L100.7,480.8 L100.7,482.2 L98.8,482.4 L98.5,484.2 L97.8,484.4 L96.9,484.4 L97.2,484.9 L98.9,485.5 L99.7,484.4 L100.7,484.8 L100.5,486.1 L99.3,486.3 L98.6,485.4 L98.0,485.3 L97.4,485.7 L96.9,485.2 L96.9,483.6 L96.8,483.0 L95.3,481.9 L93.7,481.4 L93.7,482.0 L94.1,482.9 L95.5,483.3 L96.7,484.0 L97.8,483.9 L98.8,483.1 L99.6,481.8 L100.3,482.4 L100.7,483.0 L99.8,483.9 L98.6,484.4 L99.7,485.8 L100.1,485.1 L101.1,483.6 L102.9,483.0 L103.6,481.9 L104.3,481.5 L103.9,480.5 L103.4,480.4 L101.7,481.0" fill="none" stroke="#40b848" stroke-width="0.55" stroke-linejoin="round"/>
<path d="M102.0,461.0 L100.8,460.3 L100.4,458.6 L100.9,458.0 L100.4,457.0 L98.6,456.6 L99.3,455.7 L98.9,455.0 L99.8,453.4 L98.9,454.2 L98.4,455.5 L98.4,456.1 L98.2,457.1 L97.4,458.7 L95.8,459.6 L96.1,459.0 L94.8,458.2 L94.3,458.3 L95.1,457.0 L95.6,455.9 L94.9,457.0 L95.2,458.4 L94.4,458.3 L94.2,459.6 L94.3,458.8 L93.5,457.7 L93.5,458.3 L92.3,459.0 L91.6,457.9 L91.8,459.1 L92.1,460.3 L92.6,460.7 L93.8,461.6 L94.9,463.1 L95.8,463.7 L97.0,464.0 L98.5,465.0 L99.8,464.6 L101.3,464.9 L101.9,465.0 L103.2,464.5 L103.9,465.0 L105.0,464.9 L105.5,463.1 L105.4,461.9 L107.0,461.7 L108.0,460.1 L109.0,460.9 L110.7,461.4 L109.8,462.5 L109.4,464.3 L108.1,465.6 L106.6,465.7 L105.8,464.9 L104.8,463.6 L104.3,463.1 L104.5,461.9 L104.4,460.6 L103.3,459.3 L102.4,459.2 L101.4,458.5 L100.8,458.7 L99.8,459.3 L98.5,459.8 L98.5,460.4 L99.5,461.2 L98.9,462.6 L98.8,461.9 L97.4,462.6 L97.3,463.8 L97.2,463.1" fill="none" stroke="#5060d0" stroke-width="0.55" stroke-linejoin="round"/>
<path d="M96.0,458.0 L96.4,459.5 L97.5,458.9 L98.2,457.3 L99.1,457.3 L100.2,457.8 L101.1,457.2 L101.7,456.1 L101.8,457.6 L102.1,456.6 L102.1,458.3 L101.5,459.6 L100.9,460.0 L100.3,460.7 L101.8,460.6 L101.8,459.8 L102.4,458.2 L102.2,456.4 L102.9,456.6 L102.4,457.2 L102.1,457.8 L103.5,457.3 L103.2,457.9 L103.3,459.3 L103.1,460.0 L102.6,460.4 L101.1,460.2 L99.5,459.4 L98.7,459.5 L96.9,459.3 L96.4,457.7 L96.3,456.7 L97.4,455.7 L98.7,456.7 L99.9,457.5 L100.6,456.8 L101.9,457.7 L101.7,456.9 L101.3,455.6 L100.6,454.8 L101.6,454.3 L102.6,452.8 L102.0,451.7 L100.3,451.2 L100.2,450.4 L101.0,450.2 L101.5,451.4 L103.2,452.3 L104.5,452.0 L104.3,453.0 L104.0,454.8 L104.3,456.5 L103.9,458.3 L103.1,459.9 L102.7,460.7 L103.8,461.2 L103.5,462.3 L104.4,462.2 L105.9,462.4 L105.7,462.9 L106.8,461.9 L107.5,461.3 L108.1,461.5 L109.7,462.5 L110.1,461.9 L110.5,463.2 L111.1,462.5 L110.8,461.9 L110.9,460.8 L111.5,462.6 L110.9,463.4" fill="none" stroke="#e02a20" stroke-width="0.55" stroke-linejoin="round"/>
<path d="M108.0,444.0 L109.4,444.4 L110.4,443.4 L109.6,441.7 L109.8,440.7 L108.1,440.3 L108.3,439.3 L106.4,438.9 L107.0,437.9 L105.4,437.7 L106.2,437.3 L106.8,435.6 L108.5,436.2 L109.2,436.7 L109.2,438.4 L108.6,439.1 L108.1,441.0 L107.4,441.1 L107.2,441.8 L106.7,442.5 L107.0,443.7 L106.0,444.2 L106.1,444.9 L106.9,445.5 L107.5,445.3 L108.0,444.7 L107.9,444.1 L107.9,442.5 L107.6,441.9 L107.1,441.5 L106.3,441.7 L106.0,441.2 L105.6,440.8 L103.9,440.1 L104.3,439.0 L103.6,438.4 L102.9,437.4 L102.4,437.7 L102.4,435.7 L103.6,436.0 L104.2,436.1 L104.8,437.1 L106.7,437.3 L108.1,438.0 L108.8,438.5 L109.2,440.0 L109.6,441.9 L111.4,442.2 L112.0,442.7 L111.5,444.4 L110.6,444.9 L109.2,445.3 L108.2,445.0 L107.5,445.8 L107.3,446.3 L108.6,447.1 L109.2,447.6 L108.8,448.1 L110.3,447.9 L109.6,449.5 L108.6,450.2 L109.3,451.9 L108.6,452.3 L107.2,451.6 L106.9,450.6 L106.4,449.3 L105.7,448.7 L106.0,447.1 L107.5,446.5 L108.1,446.7 L108.1,447.5" fill="none" stroke="#30c030" stroke-width="0.55" stroke-linejoin="round"/>
<path d="M100.0,468.0 L100.1,467.3 L98.6,466.6 L99.0,464.7 L100.0,463.6 L101.1,463.3 L101.8,463.2 L101.2,461.6 L103.0,460.9 L104.1,461.6 L104.6,459.9 L105.8,458.5 L107.0,459.6 L107.8,461.1 L108.7,462.3 L109.5,463.5 L108.5,465.0 L107.3,465.7 L106.6,467.3 L106.4,468.3 L105.3,468.8 L104.5,468.7 L103.0,467.6 L102.0,466.2 L101.5,464.7 L100.9,463.9 L102.2,463.2 L102.9,463.9 L104.1,463.9 L104.7,464.2 L104.9,462.8 L104.1,462.8 L104.3,460.9 L105.0,461.5 L104.8,462.6 L104.1,463.2 L103.4,462.9 L102.8,463.4 L102.2,463.7 L100.6,463.6 L100.1,462.0 L100.9,461.1 L101.6,460.5 L102.9,460.0 L104.7,459.6 L105.4,460.2 L105.4,461.2 L105.4,461.8 L105.2,462.4 L106.0,464.0 L105.3,465.1 L104.1,465.4 L104.1,466.1 L103.5,467.7 L103.0,469.4 L102.4,469.3 L102.0,470.7 L100.8,470.1 L100.2,468.8 L100.2,468.2 L101.4,467.0 L103.2,467.6 L103.5,468.2 L103.5,468.7 L102.1,469.9 L102.4,470.5 L100.7,471.1 L101.6,472.5 L101.0,472.4 L99.2,471.8 L98.7,472.0" fill="none" stroke="#6a5acd" stroke-width="0.55" stroke-linejoin="round"/>
<path d="M110.0,452.0 L111.1,450.9 L109.9,450.0 L109.9,448.8 L109.8,447.9 L109.1,446.8 L110.4,446.5 L111.2,446.0 L112.1,446.5 L111.6,445.3 L111.0,443.7 L109.9,442.7 L108.7,442.6 L108.0,443.6 L107.9,444.6 L108.4,446.1 L109.0,447.0 L110.1,448.0 L111.5,448.7 L112.0,449.6 L112.4,450.9 L113.4,450.4 L113.5,449.4 L113.0,447.5 L113.8,447.2 L112.3,446.7 L111.8,446.7 L111.1,447.0 L110.9,446.2 L110.6,445.6 L111.8,446.0 L110.6,445.5 L111.8,445.4 L113.6,445.7 L114.6,444.9 L115.4,446.2 L115.8,447.1 L116.0,448.7 L115.7,449.5 L115.8,450.8 L116.9,449.6 L116.4,448.8 L115.7,448.4 L115.7,447.4 L114.1,446.9 L113.9,446.4 L113.3,446.4 L111.9,446.3 L110.4,447.1 L110.1,448.0 L109.9,449.1 L109.5,450.4 L109.8,450.8 L110.7,451.4 L111.3,451.6 L111.3,452.3 L112.4,452.6 L112.9,453.0 L112.6,454.1 L111.7,454.8 L110.9,455.6 L110.5,456.6 L109.2,457.4 L108.5,457.5 L109.2,458.5 L110.2,458.3 L111.2,459.9 L111.9,459.3 L112.3,458.8 L114.2,459.2 L112.7,459.8" fill="none" stroke="#e05050" stroke-width="0.55" stroke-linejoin="round"/>
<path d="M116.0,464.0 L117.0,464.3 L117.6,463.4 L116.9,462.3 L116.5,461.3 L116.9,460.9 L117.4,462.0 L118.4,461.6 L118.8,461.2 L120.0,462.0 L120.2,463.4 L119.3,464.2 L117.7,465.1 L117.0,464.9 L115.6,466.2 L115.1,466.3 L115.2,467.3 L115.9,467.8 L117.1,467.2 L115.7,467.8 L115.3,467.5 L113.5,467.3 L112.6,466.9 L111.4,468.1 L110.8,466.8 L110.9,465.2 L111.6,464.3 L113.0,464.0 L113.7,465.7 L114.9,466.0 L115.6,465.9 L116.9,464.5 L117.2,463.9 L117.6,462.5 L118.6,462.6 L119.2,463.2 L118.2,463.9 L116.4,463.8 L115.4,463.2 L114.8,462.0 L115.0,460.1 L114.7,459.2 L113.6,458.8 L113.8,457.8 L114.5,456.0 L113.8,456.0 L112.9,457.3 L113.2,458.3 L113.1,459.5 L112.8,460.9 L114.1,461.4 L115.3,462.9 L116.3,463.7 L116.9,462.8 L116.1,461.8 L114.5,461.9 L114.0,462.5 L113.8,464.2 L114.3,466.0 L113.7,466.6 L113.0,466.4 L112.2,465.4 L111.4,463.8 L111.0,462.7 L109.8,462.0 L109.8,460.8 L110.4,459.4 L110.6,458.8 L111.1,458.4 L111.3,457.1 L110.5,455.6" fill="none" stroke="#d838c8" stroke-width="0.55" stroke-linejoin="round"/>
<path d="M90.0,448.0 L89.4,447.8 L87.8,448.1 L86.9,449.6 L85.8,450.2 L84.5,449.8 L83.1,448.9 L83.0,447.6 L83.3,448.4 L84.8,449.3 L84.7,450.3 L84.3,449.9 L84.5,449.3 L85.7,448.5 L87.3,448.8 L87.9,448.8 L89.3,447.7 L89.8,447.6 L90.4,447.9 L91.5,446.5 L92.4,446.9 L92.6,447.7 L94.2,448.2 L94.7,447.8 L95.6,448.8 L95.1,450.5 L94.6,451.0 L95.4,452.5 L95.7,453.3 L94.3,454.4 L95.6,454.7 L94.9,454.8 L93.8,454.3 L93.5,453.8 L93.0,453.1 L91.3,453.0 L91.6,453.7 L90.8,453.8 L90.4,452.7 L90.3,451.3 L89.8,450.4 L89.0,450.1 L87.5,450.1 L87.7,450.6 L88.8,451.2 L89.3,451.0 L89.2,449.3 L89.4,448.8 L88.9,448.3 L88.8,447.2 L87.6,447.4 L87.8,446.1 L88.9,446.1 L90.2,446.5 L91.6,447.5 L92.3,447.7 L93.5,448.0 L95.3,447.9 L94.9,446.4 L95.3,445.5 L96.8,444.5 L98.5,445.1 L98.6,444.4 L99.1,444.1 L99.4,445.0 L100.1,446.2 L99.7,445.7 L99.8,445.0 L100.3,445.5 L99.8,446.8 L99.0,447.8" fill="none" stroke="#208830" stroke-width="0.55" stroke-linejoin="round"/>
<path d="M100.0,472.0 L100.1,470.4 L100.5,468.5 L100.9,467.4 L99.8,467.0 L101.1,465.6 L100.0,464.3 L98.8,464.8 L98.0,465.3 L96.9,466.4 L95.9,466.4 L95.8,467.0 L94.7,466.4 L93.7,466.0 L93.6,466.8 L93.7,465.8 L94.1,463.9 L94.6,463.3 L94.2,463.9 L94.4,464.7 L95.1,465.3 L96.0,466.0 L97.2,466.5 L99.0,466.0 L99.2,464.6 L98.3,463.7 L97.3,465.3 L96.8,465.1 L95.5,466.4 L95.5,465.1 L96.1,464.9 L96.9,465.0 L98.7,464.6 L99.3,463.4 L100.4,463.2 L101.9,464.3 L102.6,465.1 L102.6,466.0 L104.4,466.4 L104.2,465.8 L104.7,465.9 L105.6,467.3 L105.3,465.6 L106.2,465.7 L105.6,465.3 L104.1,464.3 L103.0,463.9 L101.6,463.8 L100.8,463.6 L100.3,463.9 L98.9,463.9 L98.0,465.4 L97.4,465.6 L96.9,465.3 L95.1,465.0 L95.5,464.3 L94.4,465.9 L94.9,466.7 L95.7,467.1 L97.4,467.3 L98.6,467.1 L99.6,467.8 L101.1,466.9 L101.7,467.1 L103.5,467.8 L103.2,466.1 L104.2,466.7 L104.2,468.5 L104.0,470.3 L104.5,471.3 L104.8,470.0" fill="none" stroke="#3850e0" stroke-width="0.55" stroke-linejoin="round"/>
<path d="M112.0,476.0 L110.7,477.3 L109.4,477.8 L109.1,477.3 L109.4,476.5 L108.9,475.6 L109.6,473.8 L110.5,473.4 L110.1,472.5 L108.9,472.4 L108.2,472.3 L107.0,473.6 L106.4,473.6 L106.5,472.5 L105.7,471.0 L106.6,470.2 L106.7,468.9 L108.2,468.8 L107.6,468.8 L106.8,469.2 L107.6,468.1 L106.7,468.8 L105.6,469.3 L104.9,470.7 L104.9,472.6 L105.3,473.8 L104.7,474.6 L104.4,473.3 L104.5,472.5 L103.2,472.3 L103.8,471.8 L105.6,471.7 L106.0,470.3 L105.4,470.6 L106.3,470.3 L107.5,469.5 L109.3,469.1 L110.1,470.0 L111.7,469.6 L110.8,469.3 L109.2,470.0 L108.4,471.5 L107.5,472.6 L106.5,472.6 L105.9,474.1 L105.1,474.8 L105.2,475.6 L105.7,477.0 L106.2,477.3 L106.9,477.8 L107.2,479.3 L107.3,479.9 L106.5,480.8 L105.2,479.8 L105.4,480.7 L105.4,481.4 L106.9,481.8 L107.6,481.2 L107.9,479.5 L108.9,478.2 L109.7,478.2 L110.2,479.1 L110.7,479.5 L111.8,479.3 L112.3,480.4 L113.7,480.4 L114.8,479.1 L115.0,478.3 L114.9,477.0 L115.3,476.2 L116.1,475.0" fill="none" stroke="#a86838" stroke-width="0.55" stroke-linejoin="round"/>
<path d="M118.0,452.0 L118.9,452.6 L118.1,453.7 L116.8,455.0 L118.2,456.0 L119.6,456.5 L118.2,455.7 L117.0,454.5 L117.7,455.4 L116.3,454.6 L115.5,454.4 L115.8,455.5 L117.6,455.7 L118.8,456.1 L119.7,455.7 L120.3,455.3 L120.9,454.5 L122.7,454.0 L122.7,453.3 L123.1,453.0 L123.4,451.7 L123.6,450.9 L125.2,450.6 L124.3,449.3 L123.4,448.5 L122.6,447.3 L123.2,446.7 L122.6,446.1 L121.0,446.3 L120.7,445.3 L122.0,444.3 L123.1,445.5 L123.9,447.0 L125.2,447.4 L125.0,446.3 L124.2,445.4 L123.1,445.7 L121.3,446.1 L120.7,445.7 L119.1,445.6 L118.3,447.2 L119.1,448.4 L120.0,450.1 L120.7,450.7 L121.5,450.4 L122.2,449.2 L122.0,448.5 L122.6,448.3 L122.8,449.1 L122.1,450.5 L120.5,450.2 L120.1,451.7 L118.5,451.3 L118.0,451.1 L117.9,452.0 L117.3,452.4 L115.8,452.8 L114.3,452.5 L114.3,450.9 L114.5,452.4 L114.0,454.0 L114.5,454.5 L115.7,454.4 L116.8,453.2 L117.7,452.6 L118.1,452.1 L117.4,450.4 L116.2,450.5 L114.6,450.0 L114.8,451.1 L115.3,451.5" fill="none" stroke="#e83030" stroke-width="0.55" stroke-linejoin="round"/>
<path d="M94.0,430.0 L93.1,429.7 L93.5,428.1 L94.6,427.7 L95.8,428.7 L96.2,429.2 L97.5,430.6 L98.0,431.5 L97.9,432.2 L99.0,433.5 L99.9,434.1 L98.7,434.5 L98.1,434.7 L96.9,435.0 L95.9,436.6 L94.7,436.9 L93.8,436.3 L93.8,434.8 L93.5,433.6 L94.5,432.7 L93.8,431.2 L93.2,430.4 L92.6,429.8 L92.3,428.5 L92.0,427.3 L90.7,426.6 L91.0,426.1 L92.4,425.2 L93.6,426.3 L93.2,427.7 L91.6,428.0 L90.9,429.4 L89.8,430.2 L90.0,432.0 L88.4,432.3 L88.5,433.0 L89.5,433.5 L91.1,433.7 L93.0,433.4 L93.4,432.4 L94.6,432.1 L96.2,432.8 L96.6,433.4 L97.8,431.9 L98.3,430.8 L97.5,429.8 L96.9,429.5 L96.1,428.2 L95.7,426.5 L97.4,427.0 L97.1,425.7 L98.2,424.3 L99.3,424.0 L98.7,423.5 L99.2,423.8 L99.9,425.5 L99.6,424.8 L98.1,424.0 L99.9,424.0 L101.0,424.6 L102.3,425.0 L102.6,425.9 L102.2,426.5 L101.0,426.8 L100.7,427.3 L99.3,428.5 L99.4,429.0 L100.5,430.2 L100.7,429.1 L100.4,428.7 L99.4,428.5" fill="none" stroke="#3a9a3a" stroke-width="0.55" stroke-linejoin="round"/>
<circle cx="60.8" cy="481.2" r="1.4" fill="#8a9a30"/>
<text x="16.5" y="465.3" font-size="7" text-anchor="start" fill="#222" font-weight="normal" >-60 &#956;m</text>
<text x="177.3" y="465.9" font-size="7" text-anchor="start" fill="#222" font-weight="normal" >60 &#956;m</text>
<text x="109.7" y="380.5" font-size="7" text-anchor="start" fill="#222" font-weight="normal" >60 &#956;m</text>
<text x="109.9" y="537.2" font-size="7" text-anchor="start" fill="#222" font-weight="normal" >-60 &#956;m</text>
<text x="26.0" y="533.7" font-size="7.0" text-anchor="start" fill="#222" font-weight="normal" font-style="italic">n=27</text>
<text x="373" y="385.3" font-size="9.1" text-anchor="middle" fill="#111" font-weight="normal" >ICAM-1 density (molec/&#956;m<tspan font-size="6" dy="-3">2</tspan><tspan dy="3">)</tspan></text>
<line x1="232" y1="389.3" x2="514.2" y2="389.3" stroke="#555" stroke-width="0.9" />
<text x="263.95" y="399.8" font-size="9.1" text-anchor="middle" fill="#111" font-weight="normal" >75</text>
<defs><clipPath id="cD0"><rect x="231.1" y="406" width="65.70000000000002" height="65.5"/></clipPath></defs><defs><clipPath id="cI0"><rect x="231.1" y="474" width="65.70000000000002" height="65.7"/></clipPath></defs>
<rect x="231.1" y="406" width="65.7" height="65.5" fill="#979797"/>
<rect x="231.1" y="474" width="65.7" height="65.7" fill="#c6c6c6"/>
<text x="336.25" y="399.8" font-size="9.1" text-anchor="middle" fill="#111" font-weight="normal" >150</text>
<defs><clipPath id="cD1"><rect x="303.4" y="406" width="65.70000000000005" height="65.5"/></clipPath></defs><defs><clipPath id="cI1"><rect x="303.4" y="474" width="65.70000000000005" height="65.7"/></clipPath></defs>
<rect x="303.4" y="406" width="65.7" height="65.5" fill="#979797"/>
<rect x="303.4" y="474" width="65.7" height="65.7" fill="#c6c6c6"/>
<text x="408.8" y="399.8" font-size="9.1" text-anchor="middle" fill="#111" font-weight="normal" >300</text>
<defs><clipPath id="cD2"><rect x="376.1" y="406" width="65.39999999999998" height="65.5"/></clipPath></defs><defs><clipPath id="cI2"><rect x="376.1" y="474" width="65.39999999999998" height="65.7"/></clipPath></defs>
<rect x="376.1" y="406" width="65.4" height="65.5" fill="#979797"/>
<rect x="376.1" y="474" width="65.4" height="65.7" fill="#c6c6c6"/>
<text x="481.15" y="399.8" font-size="9.1" text-anchor="middle" fill="#111" font-weight="normal" >600</text>
<defs><clipPath id="cD3"><rect x="448.4" y="406" width="65.5" height="65.5"/></clipPath></defs><defs><clipPath id="cI3"><rect x="448.4" y="474" width="65.5" height="65.7"/></clipPath></defs>
<rect x="448.4" y="406" width="65.5" height="65.5" fill="#979797"/>
<rect x="448.4" y="474" width="65.5" height="65.7" fill="#c6c6c6"/>
<g clip-path="url(#cD0)"><path d="M254.9,418.6 L256.7,417.6 L258.6,416.9 L260.6,416.4 L262.7,416.1 L264.7,416.1 L266.7,416.3 L268.7,416.8 L270.6,417.5 L272.5,418.4 L274.2,419.5 L275.7,420.8 L277.1,422.3 L278.3,424.0 L279.3,425.8 L280.1,427.7 L280.7,429.7 L281.0,431.7 L281.1,433.8 L280.9,435.9 L280.6,437.9 L280.0,439.9 L279.1,441.9 L278.1,443.7 L276.9,445.4" fill="none" stroke="#484848" stroke-width="6" stroke-linecap="round" opacity="0.6" filter="url(#b2)"/><defs><linearGradient id="lg1" gradientUnits="userSpaceOnUse" x1="248.3" y1="442.6" x2="276.7" y2="427.4"><stop offset="0" stop-color="#cdcdcd" stop-opacity="1"/><stop offset="0.55" stop-color="#adadad" stop-opacity="1"/><stop offset="1" stop-color="#9c9c9c" stop-opacity="1"/></linearGradient></defs><ellipse cx="262.5" cy="435" rx="16" ry="16.5" fill="url(#lg1)" opacity="0.95" filter="url(#b15)" transform="rotate(25 262.5 435)"/><ellipse cx="269.3" cy="428.5" rx="1.3" ry="1.0" fill="#9c9c9c" opacity="0.26830850267032696" filter="url(#b05)"/><ellipse cx="271.1" cy="433.2" rx="1.6" ry="0.6" fill="#9c9c9c" opacity="0.18994958406858894" filter="url(#b05)"/><ellipse cx="270.2" cy="437.4" rx="0.9" ry="0.9" fill="#d0d0d0" opacity="0.15381687914901912" filter="url(#b05)"/><ellipse cx="259.5" cy="427.5" rx="1.3" ry="0.6" fill="#8e8e8e" opacity="0.2645551492697234" filter="url(#b05)"/><ellipse cx="258.5" cy="439.7" rx="1.6" ry="1.5" fill="#d0d0d0" opacity="0.21242699083415192" filter="url(#b05)"/><ellipse cx="252.3" cy="438.4" rx="1.6" ry="0.8" fill="#c0c0c0" opacity="0.28433630919622377" filter="url(#b05)"/><ellipse cx="259.8" cy="444.3" rx="1.3" ry="1.3" fill="#9c9c9c" opacity="0.21214709989511613" filter="url(#b05)"/><ellipse cx="254.1" cy="436.3" rx="1.6" ry="1.2" fill="#c0c0c0" opacity="0.16297013845923725" filter="url(#b05)"/><ellipse cx="266.7" cy="424.6" rx="1.0" ry="1.4" fill="#c0c0c0" opacity="0.2234540280693387" filter="url(#b05)"/><ellipse cx="264.9" cy="432.2" rx="1.0" ry="1.0" fill="#d0d0d0" opacity="0.26557847097462006" filter="url(#b05)"/><ellipse cx="263.5" cy="444.5" rx="1.1" ry="1.1" fill="#dadada" opacity="0.20299112438313482" filter="url(#b05)"/><ellipse cx="265.3" cy="441.1" rx="1.2" ry="1.4" fill="#dadada" opacity="0.27137098513087193" filter="url(#b05)"/><ellipse cx="263.0" cy="436.6" rx="1.3" ry="0.6" fill="#c0c0c0" opacity="0.23549990008145702" filter="url(#b05)"/><ellipse cx="254.8" cy="435.1" rx="1.3" ry="0.9" fill="#c0c0c0" opacity="0.15023771249332887" filter="url(#b05)"/><ellipse cx="263.5" cy="442.6" rx="1.2" ry="1.1" fill="#8e8e8e" opacity="0.24530566354529326" filter="url(#b05)"/><ellipse cx="263.8" cy="426.6" rx="0.9" ry="1.1" fill="#c0c0c0" opacity="0.15486886967913602" filter="url(#b05)"/><ellipse cx="271.9" cy="433.8" rx="1.6" ry="0.8" fill="#c0c0c0" opacity="0.1664232940941539" filter="url(#b05)"/><ellipse cx="265.7" cy="430.9" rx="0.9" ry="0.7" fill="#dadada" opacity="0.2927936477603148" filter="url(#b05)"/><ellipse cx="266.5" cy="438.9" rx="1.1" ry="1.2" fill="#9c9c9c" opacity="0.22106565212554183" filter="url(#b05)"/><ellipse cx="260.5" cy="426.8" rx="0.9" ry="1.4" fill="#dadada" opacity="0.29651074134829375" filter="url(#b05)"/><ellipse cx="262.7" cy="433.1" rx="1.7" ry="1.5" fill="#dadada" opacity="0.21762675407140977" filter="url(#b05)"/><ellipse cx="267.0" cy="443.0" rx="1.5" ry="1.0" fill="#c0c0c0" opacity="0.1688524983464591" filter="url(#b05)"/><ellipse cx="253.8" cy="436.7" rx="0.9" ry="1.1" fill="#d0d0d0" opacity="0.23858759569311228" filter="url(#b05)"/><ellipse cx="261.5" cy="443.7" rx="1.8" ry="1.3" fill="#dadada" opacity="0.22633106191168356" filter="url(#b05)"/><ellipse cx="259.4" cy="431.0" rx="1.0" ry="1.2" fill="#9c9c9c" opacity="0.23871139682172082" filter="url(#b05)"/><ellipse cx="259.7" cy="435.1" rx="0.8" ry="1.1" fill="#9c9c9c" opacity="0.28495174044521715" filter="url(#b05)"/><path d="M262.3,449.4 L261.0,449.4 L259.8,449.2 L258.5,448.9 L257.3,448.5 L256.1,448.0 L255.0,447.4 L254.0,446.7 L253.0,445.9 L252.1,445.0 L251.3,444.0 L250.5,442.9 L249.9,441.8 L249.4,440.6 L249.0,439.4 L248.7,438.2 L248.5,436.9 L248.4,435.6 L248.5,434.2 L248.6,432.9 L248.9,431.7 L249.3,430.4 L249.8,429.2 L250.4,428.0 L251.1,426.9" fill="none" stroke="#ffffff" stroke-width="7" stroke-linecap="round" opacity="0.57" filter="url(#b15)"/><path d="M257.4,448.8 L256.6,448.5 L255.8,448.1 L255.1,447.7 L254.3,447.2 L253.6,446.7 L252.9,446.1 L252.3,445.5 L251.7,444.9 L251.1,444.2 L250.6,443.5 L250.2,442.7 L249.7,441.9 L249.4,441.1 L249.0,440.3 L248.8,439.4 L248.6,438.6 L248.4,437.7 L248.3,436.8 L248.2,435.9 L248.2,435.0 L248.3,434.1 L248.4,433.2 L248.5,432.3 L248.7,431.4" fill="none" stroke="#ffffff" stroke-width="2.6" stroke-linecap="round" opacity="0.95" filter="url(#b1)"/><path d="M261.9,444.9 L261.1,444.8 L260.3,444.6 L259.5,444.4 L258.7,444.1 L257.9,443.7 L257.2,443.3 L256.6,442.8 L255.9,442.2 L255.4,441.6 L254.8,440.9 L254.4,440.2 L254.0,439.5 L253.6,438.7 L253.3,437.9 L253.1,437.1 L253.0,436.2 L252.9,435.3 L252.9,434.5 L253.0,433.6 L253.1,432.7 L253.3,431.9 L253.6,431.0 L254.0,430.2 L254.4,429.5" fill="none" stroke="#6a6a6a" stroke-width="1.3" stroke-linecap="round" opacity="0.4" filter="url(#b1)"/><ellipse cx="243.0" cy="409.0" rx="4.0" ry="7.0" fill="#6a6a6a" opacity="0.45" filter="url(#b2)" transform="rotate(40 243 409)"/><ellipse cx="234.5" cy="412.0" rx="3.2" ry="6.5" fill="#ffffff" opacity="0.95" filter="url(#b15)" transform="rotate(40 234.5 412)"/><ellipse cx="238.0" cy="406.5" rx="2.5" ry="3.0" fill="#e8e8e8" opacity="0.7" filter="url(#b1)"/></g>
<g clip-path="url(#cD1)"><path d="M331.1,419.8 L332.9,418.5 L334.7,417.6 L336.6,416.8 L338.6,416.3 L340.5,416.1 L342.4,416.1 L344.2,416.3 L346.0,416.8 L347.7,417.6 L349.3,418.6 L350.8,419.8 L352.1,421.2 L353.2,422.8 L354.2,424.6 L355.0,426.6 L355.6,428.7 L356.0,430.8 L356.1,433.1 L356.1,435.4 L355.9,437.8 L355.4,440.1 L354.8,442.4 L353.9,444.7 L352.9,446.8" fill="none" stroke="#484848" stroke-width="6" stroke-linecap="round" opacity="0.6" filter="url(#b2)"/><defs><linearGradient id="lg2" gradientUnits="userSpaceOnUse" x1="323.5" y1="447.2" x2="351.5" y2="429.8"><stop offset="0" stop-color="#cdcdcd" stop-opacity="1"/><stop offset="0.55" stop-color="#adadad" stop-opacity="1"/><stop offset="1" stop-color="#9c9c9c" stop-opacity="1"/></linearGradient></defs><ellipse cx="337.5" cy="438.5" rx="15.5" ry="20.5" fill="url(#lg2)" opacity="0.95" filter="url(#b15)" transform="rotate(20 337.5 438.5)"/><ellipse cx="345.8" cy="446.2" rx="1.5" ry="0.9" fill="#dadada" opacity="0.1818328216002901" filter="url(#b05)"/><ellipse cx="337.7" cy="434.3" rx="1.8" ry="1.0" fill="#d0d0d0" opacity="0.2806549452551955" filter="url(#b05)"/><ellipse cx="347.6" cy="436.0" rx="1.8" ry="0.7" fill="#8e8e8e" opacity="0.18541851106725932" filter="url(#b05)"/><ellipse cx="328.5" cy="438.8" rx="1.9" ry="1.2" fill="#8e8e8e" opacity="0.29927665057804975" filter="url(#b05)"/><ellipse cx="336.2" cy="435.7" rx="1.4" ry="1.4" fill="#c0c0c0" opacity="0.26846214561926446" filter="url(#b05)"/><ellipse cx="343.8" cy="445.6" rx="1.3" ry="1.1" fill="#9c9c9c" opacity="0.19186533643845324" filter="url(#b05)"/><ellipse cx="337.5" cy="439.0" rx="1.7" ry="1.2" fill="#9c9c9c" opacity="0.28495508831349387" filter="url(#b05)"/><ellipse cx="336.5" cy="440.7" rx="1.8" ry="1.3" fill="#9c9c9c" opacity="0.24883279527181124" filter="url(#b05)"/><ellipse cx="340.4" cy="447.5" rx="1.3" ry="0.9" fill="#dadada" opacity="0.2343283055548531" filter="url(#b05)"/><ellipse cx="337.7" cy="442.3" rx="1.2" ry="1.3" fill="#9c9c9c" opacity="0.22678374875329238" filter="url(#b05)"/><ellipse cx="329.8" cy="446.5" rx="0.9" ry="1.2" fill="#c0c0c0" opacity="0.23875504757458324" filter="url(#b05)"/><ellipse cx="331.7" cy="449.2" rx="1.8" ry="0.6" fill="#d0d0d0" opacity="0.15851946178342055" filter="url(#b05)"/><ellipse cx="334.0" cy="430.3" rx="0.8" ry="0.7" fill="#d0d0d0" opacity="0.15380170722403516" filter="url(#b05)"/><ellipse cx="331.4" cy="448.8" rx="1.0" ry="0.7" fill="#d0d0d0" opacity="0.20783488220288407" filter="url(#b05)"/><ellipse cx="333.6" cy="442.3" rx="1.6" ry="0.7" fill="#c0c0c0" opacity="0.22331415343747754" filter="url(#b05)"/><ellipse cx="332.7" cy="440.2" rx="1.5" ry="0.6" fill="#c0c0c0" opacity="0.26334932305125963" filter="url(#b05)"/><ellipse cx="346.5" cy="445.2" rx="1.3" ry="0.8" fill="#c0c0c0" opacity="0.2757602145173204" filter="url(#b05)"/><ellipse cx="344.5" cy="438.1" rx="1.2" ry="1.4" fill="#c0c0c0" opacity="0.1888644634878308" filter="url(#b05)"/><ellipse cx="340.1" cy="435.9" rx="0.8" ry="1.1" fill="#8e8e8e" opacity="0.25058419375506896" filter="url(#b05)"/><ellipse cx="329.3" cy="437.0" rx="1.1" ry="1.4" fill="#d0d0d0" opacity="0.2991787849889255" filter="url(#b05)"/><ellipse cx="330.9" cy="436.7" rx="1.1" ry="1.1" fill="#dadada" opacity="0.26873753719054994" filter="url(#b05)"/><ellipse cx="340.6" cy="433.9" rx="1.6" ry="0.8" fill="#d0d0d0" opacity="0.17266731713209232" filter="url(#b05)"/><ellipse cx="334.6" cy="427.4" rx="1.4" ry="0.6" fill="#d0d0d0" opacity="0.16496596301324865" filter="url(#b05)"/><ellipse cx="329.6" cy="429.7" rx="1.0" ry="1.1" fill="#9c9c9c" opacity="0.21807865833087942" filter="url(#b05)"/><ellipse cx="338.4" cy="434.6" rx="1.6" ry="1.3" fill="#8e8e8e" opacity="0.25933965683662863" filter="url(#b05)"/><ellipse cx="335.9" cy="438.9" rx="1.4" ry="0.6" fill="#9c9c9c" opacity="0.289332099845705" filter="url(#b05)"/><path d="M334.7,456.5 L333.5,456.4 L332.3,456.2 L331.2,455.9 L330.1,455.4 L329.1,454.8 L328.1,454.1 L327.2,453.3 L326.4,452.3 L325.7,451.2 L325.0,450.1 L324.5,448.8 L324.1,447.5 L323.7,446.1 L323.5,444.7 L323.4,443.2 L323.3,441.7 L323.4,440.1 L323.6,438.5 L323.9,437.0 L324.3,435.4 L324.8,433.9 L325.4,432.4 L326.1,430.9 L326.9,429.5" fill="none" stroke="#ffffff" stroke-width="5" stroke-linecap="round" opacity="0.48" filter="url(#b15)"/><path d="M330.0,455.6 L329.3,455.2 L328.6,454.8 L328.0,454.3 L327.4,453.7 L326.8,453.1 L326.3,452.4 L325.8,451.7 L325.3,451.0 L324.9,450.2 L324.5,449.4 L324.2,448.5 L323.9,447.6 L323.6,446.7 L323.4,445.7 L323.3,444.7 L323.2,443.7 L323.1,442.7 L323.1,441.7 L323.2,440.6 L323.3,439.6 L323.4,438.5 L323.6,437.5 L323.8,436.4 L324.1,435.4" fill="none" stroke="#ffffff" stroke-width="2.6" stroke-linecap="round" opacity="0.8" filter="url(#b1)"/><path d="M334.7,452.0 L333.9,451.9 L333.2,451.7 L332.5,451.4 L331.8,451.0 L331.2,450.6 L330.6,450.0 L330.0,449.4 L329.6,448.7 L329.1,448.0 L328.8,447.1 L328.4,446.3 L328.2,445.3 L328.0,444.4 L327.9,443.3 L327.8,442.3 L327.8,441.2 L327.9,440.1 L328.0,439.0 L328.2,437.9 L328.4,436.8 L328.8,435.6 L329.1,434.6 L329.6,433.5 L330.1,432.4" fill="none" stroke="#6a6a6a" stroke-width="1.3" stroke-linecap="round" opacity="0.4" filter="url(#b1)"/></g>
<g clip-path="url(#cD2)"><path d="M402.7,416.0 L404.5,415.5 L406.3,415.1 L408.1,415.0 L410.0,415.1 L411.8,415.3 L413.6,415.8 L415.3,416.4 L417.0,417.3 L418.6,418.3 L420.0,419.5 L421.3,420.8 L422.4,422.2 L423.4,423.8 L424.2,425.5 L424.8,427.2 L425.2,429.0 L425.5,430.9 L425.5,432.7 L425.3,434.6 L424.9,436.4 L424.3,438.2 L423.6,439.8 L422.6,441.4 L421.5,442.9" fill="none" stroke="#484848" stroke-width="6" stroke-linecap="round" opacity="0.6" filter="url(#b2)"/><defs><linearGradient id="lg3" gradientUnits="userSpaceOnUse" x1="392.7" y1="437.7" x2="422.3" y2="428.3"><stop offset="0" stop-color="#cdcdcd" stop-opacity="1"/><stop offset="0.55" stop-color="#adadad" stop-opacity="1"/><stop offset="1" stop-color="#9c9c9c" stop-opacity="1"/></linearGradient></defs><ellipse cx="407.5" cy="433" rx="15.5" ry="15.5" fill="url(#lg3)" opacity="0.95" filter="url(#b15)" transform="rotate(0 407.5 433)"/><ellipse cx="401.0" cy="434.1" rx="1.2" ry="1.1" fill="#dadada" opacity="0.15982932888597196" filter="url(#b05)"/><ellipse cx="401.5" cy="426.4" rx="1.9" ry="1.0" fill="#dadada" opacity="0.22145298130490024" filter="url(#b05)"/><ellipse cx="410.9" cy="424.3" rx="1.5" ry="1.4" fill="#dadada" opacity="0.20849050813308193" filter="url(#b05)"/><ellipse cx="415.5" cy="427.3" rx="1.5" ry="1.4" fill="#9c9c9c" opacity="0.25711942254168035" filter="url(#b05)"/><ellipse cx="415.0" cy="431.6" rx="1.8" ry="1.4" fill="#d0d0d0" opacity="0.1553829947143445" filter="url(#b05)"/><ellipse cx="407.4" cy="427.0" rx="1.5" ry="1.3" fill="#c0c0c0" opacity="0.21317227688496146" filter="url(#b05)"/><ellipse cx="415.8" cy="434.8" rx="1.4" ry="1.0" fill="#8e8e8e" opacity="0.28563026562716626" filter="url(#b05)"/><ellipse cx="411.7" cy="424.6" rx="1.7" ry="1.5" fill="#dadada" opacity="0.2353661255211485" filter="url(#b05)"/><ellipse cx="412.8" cy="425.8" rx="1.7" ry="1.1" fill="#c0c0c0" opacity="0.16866522550224577" filter="url(#b05)"/><ellipse cx="407.1" cy="436.4" rx="1.3" ry="0.9" fill="#d0d0d0" opacity="0.21156927410188633" filter="url(#b05)"/><ellipse cx="398.8" cy="427.9" rx="1.6" ry="1.4" fill="#d0d0d0" opacity="0.24074826569989233" filter="url(#b05)"/><ellipse cx="414.0" cy="430.0" rx="1.4" ry="1.1" fill="#c0c0c0" opacity="0.22581305604720658" filter="url(#b05)"/><ellipse cx="405.2" cy="435.7" rx="1.0" ry="0.6" fill="#c0c0c0" opacity="0.19707457798741376" filter="url(#b05)"/><ellipse cx="404.5" cy="432.0" rx="1.4" ry="1.2" fill="#dadada" opacity="0.2521456255308476" filter="url(#b05)"/><ellipse cx="415.2" cy="427.3" rx="1.5" ry="1.2" fill="#c0c0c0" opacity="0.21561686394117474" filter="url(#b05)"/><ellipse cx="401.5" cy="428.1" rx="1.2" ry="1.3" fill="#dadada" opacity="0.19723145889496752" filter="url(#b05)"/><ellipse cx="404.4" cy="435.2" rx="0.9" ry="1.2" fill="#c0c0c0" opacity="0.21993756445450616" filter="url(#b05)"/><ellipse cx="411.9" cy="429.3" rx="1.6" ry="1.3" fill="#d0d0d0" opacity="0.23840654350136606" filter="url(#b05)"/><ellipse cx="404.3" cy="436.2" rx="1.1" ry="1.1" fill="#8e8e8e" opacity="0.20459326340099354" filter="url(#b05)"/><ellipse cx="402.9" cy="429.8" rx="1.5" ry="0.8" fill="#9c9c9c" opacity="0.1657307588744239" filter="url(#b05)"/><ellipse cx="412.1" cy="423.9" rx="1.4" ry="1.2" fill="#c0c0c0" opacity="0.1858042765346763" filter="url(#b05)"/><ellipse cx="399.7" cy="431.4" rx="1.6" ry="0.7" fill="#c0c0c0" opacity="0.2923723600809503" filter="url(#b05)"/><ellipse cx="411.8" cy="426.2" rx="1.7" ry="1.5" fill="#d0d0d0" opacity="0.2005065352567321" filter="url(#b05)"/><ellipse cx="411.2" cy="442.5" rx="1.3" ry="0.8" fill="#d0d0d0" opacity="0.1550863372493099" filter="url(#b05)"/><ellipse cx="415.8" cy="434.9" rx="1.8" ry="0.9" fill="#d0d0d0" opacity="0.27093867617025824" filter="url(#b05)"/><ellipse cx="403.7" cy="423.8" rx="1.1" ry="1.3" fill="#c0c0c0" opacity="0.2197081193473424" filter="url(#b05)"/><path d="M405.2,446.3 L404.0,446.0 L402.8,445.7 L401.7,445.2 L400.6,444.6 L399.6,443.9 L398.6,443.1 L397.7,442.3 L396.9,441.4 L396.2,440.4 L395.6,439.3 L395.0,438.2 L394.6,437.1 L394.3,435.9 L394.1,434.7 L394.0,433.4 L394.0,432.2 L394.1,431.0 L394.4,429.8 L394.7,428.6 L395.2,427.5 L395.7,426.4 L396.4,425.3 L397.1,424.4 L398.0,423.5" fill="none" stroke="#ffffff" stroke-width="5" stroke-linecap="round" opacity="0.54" filter="url(#b15)"/><path d="M400.6,444.9 L399.9,444.4 L399.2,443.9 L398.6,443.4 L398.0,442.8 L397.4,442.2 L396.8,441.6 L396.3,440.9 L395.8,440.2 L395.4,439.5 L395.0,438.7 L394.7,437.9 L394.4,437.1 L394.2,436.3 L394.0,435.5 L393.9,434.6 L393.8,433.8 L393.8,433.0 L393.8,432.1 L393.9,431.3 L394.0,430.4 L394.2,429.6 L394.5,428.8 L394.7,428.0 L395.1,427.2" fill="none" stroke="#ffffff" stroke-width="2.6" stroke-linecap="round" opacity="0.9" filter="url(#b1)"/><path d="M405.5,441.7 L404.8,441.4 L404.0,441.1 L403.3,440.8 L402.7,440.4 L402.0,439.9 L401.4,439.4 L400.9,438.8 L400.4,438.2 L399.9,437.5 L399.5,436.8 L399.2,436.1 L398.9,435.4 L398.7,434.6 L398.6,433.8 L398.5,433.0 L398.5,432.2 L398.6,431.4 L398.7,430.6 L398.9,429.9 L399.1,429.1 L399.4,428.4 L399.8,427.7 L400.2,427.0 L400.7,426.4" fill="none" stroke="#6a6a6a" stroke-width="1.3" stroke-linecap="round" opacity="0.4" filter="url(#b1)"/></g>
<g clip-path="url(#cD3)"><path d="M466.1,429.5 L467.2,426.7 L468.8,424.2 L470.7,422.0 L472.9,420.1 L475.3,418.7 L478.0,417.6 L480.7,417.1 L483.5,417.0 L486.3,417.5 L489.0,418.3 L491.5,419.7 L493.7,421.4 L495.7,423.6 L497.4,426.0 L498.7,428.7 L499.5,431.6 L500.0,434.6 L499.9,437.7 L499.5,440.7 L498.6,443.5 L497.3,446.2 L495.6,448.6 L493.6,450.7 L491.2,452.5" fill="none" stroke="#484848" stroke-width="6" stroke-linecap="round" opacity="0.65" filter="url(#b2)"/><defs><linearGradient id="lg4" gradientUnits="userSpaceOnUse" x1="467.6" y1="445.8" x2="495.4" y2="428.2"><stop offset="0" stop-color="#cdcdcd" stop-opacity="1"/><stop offset="0.55" stop-color="#adadad" stop-opacity="1"/><stop offset="1" stop-color="#9c9c9c" stop-opacity="1"/></linearGradient></defs><ellipse cx="481.5" cy="437" rx="16" ry="17.5" fill="url(#lg4)" opacity="0.95" filter="url(#b15)" transform="rotate(0 481.5 437)"/><ellipse cx="478.8" cy="427.3" rx="0.9" ry="0.9" fill="#c0c0c0" opacity="0.2700678527243712" filter="url(#b05)"/><ellipse cx="488.3" cy="429.2" rx="1.4" ry="0.8" fill="#8e8e8e" opacity="0.27403075185364106" filter="url(#b05)"/><ellipse cx="475.4" cy="430.6" rx="1.0" ry="0.8" fill="#c0c0c0" opacity="0.16300773789523826" filter="url(#b05)"/><ellipse cx="484.2" cy="441.8" rx="1.4" ry="0.7" fill="#9c9c9c" opacity="0.19199963929803618" filter="url(#b05)"/><ellipse cx="486.7" cy="431.7" rx="1.6" ry="0.7" fill="#9c9c9c" opacity="0.23983687082849842" filter="url(#b05)"/><ellipse cx="479.7" cy="427.5" rx="1.1" ry="1.3" fill="#d0d0d0" opacity="0.16216131900957448" filter="url(#b05)"/><ellipse cx="482.0" cy="441.1" rx="1.6" ry="0.7" fill="#8e8e8e" opacity="0.15996577040790913" filter="url(#b05)"/><ellipse cx="480.0" cy="428.1" rx="1.3" ry="1.1" fill="#dadada" opacity="0.17980682988202026" filter="url(#b05)"/><ellipse cx="477.0" cy="446.5" rx="1.6" ry="0.8" fill="#dadada" opacity="0.24231481126930457" filter="url(#b05)"/><ellipse cx="474.8" cy="432.3" rx="1.0" ry="1.0" fill="#d0d0d0" opacity="0.20356260727788345" filter="url(#b05)"/><ellipse cx="476.0" cy="441.9" rx="1.2" ry="0.9" fill="#c0c0c0" opacity="0.2949010135452184" filter="url(#b05)"/><ellipse cx="488.5" cy="434.5" rx="1.8" ry="1.2" fill="#d0d0d0" opacity="0.19401153804853144" filter="url(#b05)"/><ellipse cx="473.6" cy="435.4" rx="1.0" ry="0.9" fill="#8e8e8e" opacity="0.19969608437987799" filter="url(#b05)"/><ellipse cx="478.0" cy="431.1" rx="0.9" ry="1.5" fill="#9c9c9c" opacity="0.2874794709025884" filter="url(#b05)"/><ellipse cx="487.6" cy="439.7" rx="1.9" ry="1.1" fill="#dadada" opacity="0.22360014235526146" filter="url(#b05)"/><ellipse cx="471.8" cy="437.8" rx="1.7" ry="1.0" fill="#8e8e8e" opacity="0.22166429445345634" filter="url(#b05)"/><ellipse cx="474.9" cy="434.5" rx="0.8" ry="1.0" fill="#8e8e8e" opacity="0.24711534852828876" filter="url(#b05)"/><ellipse cx="479.7" cy="429.0" rx="1.0" ry="0.6" fill="#c0c0c0" opacity="0.18635836861171998" filter="url(#b05)"/><ellipse cx="474.0" cy="429.5" rx="1.8" ry="0.7" fill="#d0d0d0" opacity="0.2836538246959818" filter="url(#b05)"/><ellipse cx="476.8" cy="426.3" rx="1.4" ry="1.5" fill="#d0d0d0" opacity="0.2241432034084268" filter="url(#b05)"/><ellipse cx="485.5" cy="445.4" rx="1.5" ry="1.3" fill="#dadada" opacity="0.18228570035256314" filter="url(#b05)"/><ellipse cx="489.2" cy="445.4" rx="1.2" ry="0.9" fill="#9c9c9c" opacity="0.1611570852159815" filter="url(#b05)"/><ellipse cx="485.0" cy="438.9" rx="1.6" ry="1.5" fill="#8e8e8e" opacity="0.26970198601850087" filter="url(#b05)"/><ellipse cx="484.3" cy="430.2" rx="1.2" ry="1.3" fill="#9c9c9c" opacity="0.28168168055527143" filter="url(#b05)"/><ellipse cx="482.8" cy="447.6" rx="1.0" ry="1.2" fill="#c0c0c0" opacity="0.2727643779200502" filter="url(#b05)"/><ellipse cx="483.1" cy="445.0" rx="1.8" ry="1.0" fill="#d0d0d0" opacity="0.15512747246260974" filter="url(#b05)"/><path d="M479.1,452.3 L478.1,452.0 L477.1,451.7 L476.1,451.3 L475.2,450.9 L474.3,450.3 L473.5,449.7 L472.7,449.0 L471.9,448.3 L471.2,447.5 L470.5,446.6 L469.9,445.7 L469.4,444.8 L468.9,443.8 L468.5,442.7 L468.1,441.7 L467.9,440.6 L467.7,439.5 L467.6,438.4 L467.5,437.2 L467.5,436.1 L467.6,435.0 L467.8,433.9 L468.0,432.8 L468.3,431.7" fill="none" stroke="#ffffff" stroke-width="5" stroke-linecap="round" opacity="0.44999999999999996" filter="url(#b15)"/><path d="M474.4,450.6 L473.9,450.2 L473.4,449.9 L472.9,449.5 L472.4,449.0 L471.9,448.6 L471.5,448.1 L471.0,447.6 L470.6,447.1 L470.2,446.6 L469.9,446.0 L469.5,445.4 L469.2,444.9 L468.9,444.2 L468.6,443.6 L468.4,443.0 L468.2,442.4 L468.0,441.7 L467.8,441.1 L467.6,440.4 L467.5,439.7 L467.4,439.0 L467.4,438.4 L467.3,437.7 L467.3,437.0" fill="none" stroke="#ffffff" stroke-width="2.6" stroke-linecap="round" opacity="0.75" filter="url(#b1)"/><path d="M479.4,447.6 L478.8,447.4 L478.2,447.1 L477.6,446.8 L477.0,446.5 L476.4,446.1 L475.9,445.6 L475.4,445.1 L474.9,444.6 L474.5,444.1 L474.1,443.5 L473.7,442.9 L473.3,442.2 L473.0,441.6 L472.8,440.9 L472.5,440.2 L472.3,439.5 L472.2,438.7 L472.1,438.0 L472.0,437.3 L472.0,436.5 L472.0,435.7 L472.1,435.0 L472.2,434.3 L472.3,433.5" fill="none" stroke="#6a6a6a" stroke-width="1.3" stroke-linecap="round" opacity="0.4" filter="url(#b1)"/></g>
<text x="233.2" y="469.4" font-size="9.2" text-anchor="start" fill="#fff" font-weight="normal" >DIC</text>
<rect x="267.9" y="467.9" width="26.7" height="1.8" fill="#fff"/>
<g clip-path="url(#cI0)"><ellipse cx="264.0" cy="494.0" rx="4.0" ry="7.0" fill="#8a8a8a" opacity="0.7" filter="url(#b2)"/><ellipse cx="262.0" cy="501.0" rx="3.0" ry="5.0" fill="#8a8a8a" opacity="0.5599999999999999" filter="url(#b2)"/><ellipse cx="259.0" cy="506.0" rx="3.0" ry="3.0" fill="#8a8a8a" opacity="0.35" filter="url(#b2)"/><ellipse cx="236.0" cy="482.0" rx="4.0" ry="5.0" fill="#8a8a8a" opacity="0.21" filter="url(#b2)"/><ellipse cx="256.9" cy="508.3" rx="1.4" ry="1.7" fill="#6e6e6e" opacity="0.2623727661971845" filter="url(#b1)"/><ellipse cx="264.1" cy="506.9" rx="1.8" ry="2.3" fill="#6e6e6e" opacity="0.2474522017552835" filter="url(#b1)"/><ellipse cx="263.5" cy="506.4" rx="1.4" ry="2.1" fill="#e6e6e6" opacity="0.29778835875032594" filter="url(#b1)"/><ellipse cx="256.4" cy="495.6" rx="1.0" ry="1.8" fill="#6e6e6e" opacity="0.38478729069462764" filter="url(#b1)"/><ellipse cx="260.3" cy="493.2" rx="2.2" ry="1.7" fill="#e6e6e6" opacity="0.34092524878287234" filter="url(#b1)"/><ellipse cx="268.1" cy="501.3" rx="1.4" ry="1.3" fill="#d8d8d8" opacity="0.2649008664344334" filter="url(#b1)"/><ellipse cx="259.1" cy="488.5" rx="2.5" ry="1.1" fill="#888888" opacity="0.30733822620016227" filter="url(#b1)"/><ellipse cx="265.1" cy="495.1" rx="2.4" ry="2.4" fill="#d8d8d8" opacity="0.2751999250360589" filter="url(#b1)"/><ellipse cx="268.5" cy="500.2" rx="1.5" ry="1.8" fill="#7a7a7a" opacity="0.37061975020796445" filter="url(#b1)"/><ellipse cx="266.8" cy="500.1" rx="2.4" ry="1.7" fill="#888888" opacity="0.33593266382329956" filter="url(#b1)"/><ellipse cx="260.7" cy="504.0" rx="1.9" ry="2.0" fill="#d8d8d8" opacity="0.3186214576255818" filter="url(#b1)"/><ellipse cx="260.2" cy="498.5" rx="1.2" ry="1.2" fill="#888888" opacity="0.35998788511986857" filter="url(#b1)"/><ellipse cx="260.2" cy="505.6" rx="1.1" ry="2.0" fill="#e6e6e6" opacity="0.3957969293274185" filter="url(#b1)"/><ellipse cx="263.3" cy="497.4" rx="1.3" ry="1.3" fill="#7a7a7a" opacity="0.1530753962146549" filter="url(#b1)"/><ellipse cx="257.8" cy="510.1" rx="1.4" ry="1.7" fill="#888888" opacity="0.3881168470670674" filter="url(#b1)"/><ellipse cx="263.1" cy="499.0" rx="2.1" ry="1.9" fill="#d8d8d8" opacity="0.3323500450806862" filter="url(#b1)"/><ellipse cx="260.4" cy="508.6" rx="2.3" ry="1.7" fill="#888888" opacity="0.2903394661945947" filter="url(#b1)"/><ellipse cx="261.0" cy="489.3" rx="1.9" ry="1.3" fill="#d8d8d8" opacity="0.27618011685721583" filter="url(#b1)"/><ellipse cx="258.0" cy="506.0" rx="2.0" ry="1.5" fill="#e4e4e4" opacity="0.6" filter="url(#b05)"/><ellipse cx="262.0" cy="510.0" rx="1.5" ry="1.0" fill="#e4e4e4" opacity="0.6" filter="url(#b05)"/></g>
<g clip-path="url(#cI1)"><ellipse cx="342.0" cy="500.0" rx="8.0" ry="9.0" fill="#8a8a8a" opacity="0.7" filter="url(#b2)"/><ellipse cx="337.0" cy="508.0" rx="9.0" ry="6.0" fill="#8a8a8a" opacity="0.63" filter="url(#b2)"/><ellipse cx="331.0" cy="511.0" rx="6.0" ry="5.0" fill="#8a8a8a" opacity="0.5599999999999999" filter="url(#b2)"/><ellipse cx="334.0" cy="494.0" rx="3.0" ry="5.0" fill="#8a8a8a" opacity="0.42" filter="url(#b2)"/><ellipse cx="345.0" cy="497.0" rx="6.0" ry="6.0" fill="#8a8a8a" opacity="0.48999999999999994" filter="url(#b2)"/><ellipse cx="332.0" cy="517.0" rx="4.0" ry="3.0" fill="#8a8a8a" opacity="0.42" filter="url(#b2)"/><ellipse cx="351.8" cy="519.3" rx="1.1" ry="1.5" fill="#6e6e6e" opacity="0.19227090391511092" filter="url(#b1)"/><ellipse cx="347.7" cy="516.3" rx="2.0" ry="1.8" fill="#d8d8d8" opacity="0.29530100427800077" filter="url(#b1)"/><ellipse cx="329.4" cy="502.8" rx="2.3" ry="2.2" fill="#e6e6e6" opacity="0.2772668632667427" filter="url(#b1)"/><ellipse cx="335.4" cy="518.9" rx="1.4" ry="1.1" fill="#888888" opacity="0.15686121427270475" filter="url(#b1)"/><ellipse cx="338.0" cy="499.2" rx="1.7" ry="2.2" fill="#e6e6e6" opacity="0.19112210601663282" filter="url(#b1)"/><ellipse cx="330.0" cy="496.4" rx="1.5" ry="1.2" fill="#7a7a7a" opacity="0.2775559614593003" filter="url(#b1)"/><ellipse cx="353.0" cy="510.6" rx="2.6" ry="1.6" fill="#7a7a7a" opacity="0.25366774859726743" filter="url(#b1)"/><ellipse cx="339.7" cy="518.1" rx="2.3" ry="1.5" fill="#d8d8d8" opacity="0.39524414326803164" filter="url(#b1)"/><ellipse cx="351.9" cy="494.2" rx="2.1" ry="1.6" fill="#e6e6e6" opacity="0.28258892903086125" filter="url(#b1)"/><ellipse cx="338.7" cy="518.6" rx="1.8" ry="2.1" fill="#888888" opacity="0.31542140000099483" filter="url(#b1)"/><ellipse cx="337.7" cy="517.9" rx="1.9" ry="2.3" fill="#d8d8d8" opacity="0.33094323846800455" filter="url(#b1)"/><ellipse cx="338.6" cy="496.1" rx="2.3" ry="2.2" fill="#d8d8d8" opacity="0.36917404403526427" filter="url(#b1)"/><ellipse cx="342.3" cy="513.7" rx="1.5" ry="2.3" fill="#e6e6e6" opacity="0.32655145159190113" filter="url(#b1)"/><ellipse cx="339.1" cy="505.6" rx="1.9" ry="1.4" fill="#888888" opacity="0.2019546186344818" filter="url(#b1)"/><ellipse cx="339.3" cy="518.9" rx="2.4" ry="2.1" fill="#888888" opacity="0.2353647305182168" filter="url(#b1)"/><ellipse cx="325.2" cy="515.1" rx="1.1" ry="1.9" fill="#6e6e6e" opacity="0.21827493308428733" filter="url(#b1)"/><ellipse cx="331.3" cy="517.0" rx="2.2" ry="1.2" fill="#6e6e6e" opacity="0.21646030069297545" filter="url(#b1)"/><ellipse cx="348.1" cy="519.2" rx="1.7" ry="2.0" fill="#6e6e6e" opacity="0.15796826753168627" filter="url(#b1)"/><ellipse cx="335.1" cy="494.5" rx="1.1" ry="2.3" fill="#6e6e6e" opacity="0.15633617870672525" filter="url(#b1)"/><ellipse cx="345.4" cy="489.7" rx="1.2" ry="2.3" fill="#d8d8d8" opacity="0.3336967583442829" filter="url(#b1)"/><ellipse cx="339.6" cy="489.1" rx="1.1" ry="2.4" fill="#888888" opacity="0.18785502718913788" filter="url(#b1)"/><ellipse cx="326.0" cy="500.0" rx="2.0" ry="2.0" fill="#888888" opacity="0.2215066591970879" filter="url(#b1)"/><ellipse cx="338.7" cy="498.9" rx="2.2" ry="2.0" fill="#888888" opacity="0.3755050395875092" filter="url(#b1)"/><ellipse cx="346.2" cy="516.6" rx="1.8" ry="1.3" fill="#7a7a7a" opacity="0.3152071246642535" filter="url(#b1)"/><ellipse cx="333.9" cy="492.3" rx="2.3" ry="2.3" fill="#e6e6e6" opacity="0.2795715264695803" filter="url(#b1)"/><ellipse cx="346.9" cy="504.6" rx="1.2" ry="2.3" fill="#d8d8d8" opacity="0.21477410581305137" filter="url(#b1)"/><ellipse cx="342.0" cy="502.4" rx="2.1" ry="2.3" fill="#6e6e6e" opacity="0.317640322925115" filter="url(#b1)"/><ellipse cx="332.1" cy="493.2" rx="1.2" ry="1.9" fill="#7a7a7a" opacity="0.2770647960089109" filter="url(#b1)"/><ellipse cx="352.5" cy="518.9" rx="1.4" ry="1.6" fill="#7a7a7a" opacity="0.21269519046028929" filter="url(#b1)"/><ellipse cx="341.6" cy="509.0" rx="2.1" ry="1.4" fill="#888888" opacity="0.2557542306906304" filter="url(#b1)"/><ellipse cx="339.7" cy="489.2" rx="1.6" ry="1.2" fill="#6e6e6e" opacity="0.27802046113418355" filter="url(#b1)"/><ellipse cx="327.5" cy="492.3" rx="1.3" ry="1.3" fill="#6e6e6e" opacity="0.2043384086795898" filter="url(#b1)"/><ellipse cx="339.6" cy="503.9" rx="1.9" ry="1.5" fill="#d8d8d8" opacity="0.3211716538417389" filter="url(#b1)"/><ellipse cx="346.3" cy="495.7" rx="1.7" ry="1.0" fill="#e6e6e6" opacity="0.2978357204259089" filter="url(#b1)"/><ellipse cx="349.7" cy="518.7" rx="1.3" ry="1.1" fill="#888888" opacity="0.3506638021763465" filter="url(#b1)"/><ellipse cx="335.3" cy="505.6" rx="2.0" ry="1.4" fill="#6e6e6e" opacity="0.3958802683883297" filter="url(#b1)"/><ellipse cx="335.4" cy="489.6" rx="1.2" ry="1.4" fill="#e6e6e6" opacity="0.3601529217797102" filter="url(#b1)"/><ellipse cx="343.8" cy="489.5" rx="1.1" ry="1.9" fill="#e6e6e6" opacity="0.26583495737658236" filter="url(#b1)"/><ellipse cx="349.9" cy="508.6" rx="1.5" ry="1.5" fill="#6e6e6e" opacity="0.38381760851212776" filter="url(#b1)"/><ellipse cx="327.1" cy="513.2" rx="1.2" ry="1.5" fill="#7a7a7a" opacity="0.3289811690584279" filter="url(#b1)"/><ellipse cx="336.0" cy="521.0" rx="2.5" ry="1.5" fill="#e4e4e4" opacity="0.6" filter="url(#b05)"/><ellipse cx="350.0" cy="505.0" rx="1.5" ry="2.0" fill="#e4e4e4" opacity="0.6" filter="url(#b05)"/></g>
<g clip-path="url(#cI2)"><ellipse cx="410.0" cy="499.0" rx="7.0" ry="9.0" fill="#8a8a8a" opacity="0.7" filter="url(#b2)"/><ellipse cx="398.0" cy="505.0" rx="7.0" ry="9.0" fill="#8a8a8a" opacity="0.63" filter="url(#b2)"/><ellipse cx="412.0" cy="515.0" rx="6.0" ry="6.0" fill="#8a8a8a" opacity="0.63" filter="url(#b2)"/><ellipse cx="405.0" cy="508.0" rx="5.0" ry="6.0" fill="#8a8a8a" opacity="0.42" filter="url(#b2)"/><ellipse cx="398.7" cy="507.6" rx="2.5" ry="1.7" fill="#d8d8d8" opacity="0.29521302108751396" filter="url(#b1)"/><ellipse cx="409.0" cy="520.7" rx="1.4" ry="1.3" fill="#e6e6e6" opacity="0.39891120887761566" filter="url(#b1)"/><ellipse cx="405.2" cy="518.1" rx="1.6" ry="2.2" fill="#e6e6e6" opacity="0.2079805013441679" filter="url(#b1)"/><ellipse cx="396.2" cy="521.3" rx="2.2" ry="1.9" fill="#e6e6e6" opacity="0.16600785955674932" filter="url(#b1)"/><ellipse cx="413.2" cy="509.3" rx="2.2" ry="2.2" fill="#d8d8d8" opacity="0.21735791726549916" filter="url(#b1)"/><ellipse cx="408.7" cy="521.1" rx="2.1" ry="2.3" fill="#e6e6e6" opacity="0.24874085100018598" filter="url(#b1)"/><ellipse cx="414.4" cy="504.0" rx="2.4" ry="1.1" fill="#7a7a7a" opacity="0.18399221505016722" filter="url(#b1)"/><ellipse cx="398.1" cy="522.8" rx="2.2" ry="2.2" fill="#e6e6e6" opacity="0.2552871281416025" filter="url(#b1)"/><ellipse cx="415.3" cy="508.7" rx="1.9" ry="1.8" fill="#888888" opacity="0.37605044271194377" filter="url(#b1)"/><ellipse cx="411.1" cy="521.4" rx="2.6" ry="1.9" fill="#d8d8d8" opacity="0.19077490549276743" filter="url(#b1)"/><ellipse cx="416.1" cy="522.7" rx="1.9" ry="2.0" fill="#888888" opacity="0.20278124591889957" filter="url(#b1)"/><ellipse cx="415.3" cy="508.6" rx="1.2" ry="1.7" fill="#d8d8d8" opacity="0.3096896108050011" filter="url(#b1)"/><ellipse cx="405.5" cy="500.4" rx="1.7" ry="1.2" fill="#6e6e6e" opacity="0.22347281170476554" filter="url(#b1)"/><ellipse cx="413.5" cy="519.4" rx="2.0" ry="2.1" fill="#6e6e6e" opacity="0.2444511922419825" filter="url(#b1)"/><ellipse cx="408.4" cy="507.8" rx="1.8" ry="2.4" fill="#d8d8d8" opacity="0.22741751336908475" filter="url(#b1)"/><ellipse cx="394.2" cy="509.6" rx="2.5" ry="2.4" fill="#6e6e6e" opacity="0.22290309967560157" filter="url(#b1)"/><ellipse cx="399.4" cy="512.8" rx="1.5" ry="2.3" fill="#d8d8d8" opacity="0.37416491035690036" filter="url(#b1)"/><ellipse cx="402.6" cy="504.6" rx="1.6" ry="2.2" fill="#888888" opacity="0.3202427092180793" filter="url(#b1)"/><ellipse cx="394.9" cy="523.0" rx="1.4" ry="1.9" fill="#888888" opacity="0.3289053459421464" filter="url(#b1)"/><ellipse cx="418.2" cy="503.7" rx="1.8" ry="1.8" fill="#d8d8d8" opacity="0.15286437159105476" filter="url(#b1)"/><ellipse cx="403.6" cy="508.9" rx="1.6" ry="1.8" fill="#6e6e6e" opacity="0.18331710409388038" filter="url(#b1)"/><ellipse cx="409.7" cy="500.0" rx="2.1" ry="1.5" fill="#d8d8d8" opacity="0.3267375623414748" filter="url(#b1)"/><ellipse cx="412.7" cy="488.8" rx="2.5" ry="1.0" fill="#6e6e6e" opacity="0.24229120658919637" filter="url(#b1)"/><ellipse cx="409.6" cy="498.8" rx="1.5" ry="1.5" fill="#888888" opacity="0.2281676652992277" filter="url(#b1)"/><ellipse cx="402.3" cy="509.4" rx="2.3" ry="1.1" fill="#d8d8d8" opacity="0.35326421042330786" filter="url(#b1)"/><ellipse cx="419.2" cy="512.6" rx="1.5" ry="1.3" fill="#7a7a7a" opacity="0.35095191759872835" filter="url(#b1)"/><ellipse cx="398.7" cy="494.7" rx="2.0" ry="1.1" fill="#e6e6e6" opacity="0.3001810333169363" filter="url(#b1)"/><ellipse cx="418.6" cy="512.3" rx="1.7" ry="2.2" fill="#7a7a7a" opacity="0.19232105813910874" filter="url(#b1)"/><ellipse cx="401.4" cy="511.4" rx="1.7" ry="1.3" fill="#888888" opacity="0.1802298311775716" filter="url(#b1)"/><ellipse cx="406.8" cy="494.9" rx="1.3" ry="1.4" fill="#888888" opacity="0.3518066045417384" filter="url(#b1)"/><ellipse cx="410.0" cy="517.0" rx="1.9" ry="1.6" fill="#d8d8d8" opacity="0.27959940506864694" filter="url(#b1)"/><ellipse cx="415.8" cy="504.7" rx="1.5" ry="1.8" fill="#e6e6e6" opacity="0.15888606518621068" filter="url(#b1)"/><ellipse cx="403.6" cy="495.2" rx="2.5" ry="2.2" fill="#e6e6e6" opacity="0.3967284137571989" filter="url(#b1)"/><ellipse cx="404.2" cy="522.2" rx="1.1" ry="1.6" fill="#7a7a7a" opacity="0.3383451150040835" filter="url(#b1)"/><ellipse cx="412.9" cy="522.7" rx="1.5" ry="1.3" fill="#888888" opacity="0.16701690602671557" filter="url(#b1)"/><ellipse cx="408.5" cy="498.3" rx="1.1" ry="2.3" fill="#7a7a7a" opacity="0.3234264018243137" filter="url(#b1)"/><ellipse cx="417.9" cy="520.3" rx="1.9" ry="1.0" fill="#e6e6e6" opacity="0.33632456682774037" filter="url(#b1)"/><ellipse cx="396.8" cy="498.8" rx="1.8" ry="1.6" fill="#6e6e6e" opacity="0.38476061581277243" filter="url(#b1)"/><ellipse cx="409.1" cy="500.3" rx="2.6" ry="1.8" fill="#d8d8d8" opacity="0.35288785320208427" filter="url(#b1)"/><ellipse cx="393.7" cy="495.9" rx="1.9" ry="2.1" fill="#6e6e6e" opacity="0.19282556518811098" filter="url(#b1)"/><ellipse cx="393.0" cy="493.0" rx="1.5" ry="1.5" fill="#e4e4e4" opacity="0.6" filter="url(#b05)"/><ellipse cx="409.0" cy="524.0" rx="1.5" ry="1.5" fill="#e4e4e4" opacity="0.6" filter="url(#b05)"/></g>
<g clip-path="url(#cI3)"><ellipse cx="478.5" cy="504.5" rx="11.0" ry="7.5" fill="#5a5a5a" opacity="0.75" filter="url(#b2)"/><ellipse cx="482.0" cy="502.0" rx="8.0" ry="6.0" fill="#5a5a5a" opacity="0.6000000000000001" filter="url(#b2)"/><ellipse cx="472.0" cy="509.0" rx="6.0" ry="5.0" fill="#5a5a5a" opacity="0.5249999999999999" filter="url(#b2)"/><ellipse cx="470.0" cy="517.0" rx="3.0" ry="3.0" fill="#5a5a5a" opacity="0.375" filter="url(#b2)"/><ellipse cx="469.1" cy="496.5" rx="1.8" ry="1.1" fill="#e6e6e6" opacity="0.15495429411826842" filter="url(#b1)"/><ellipse cx="478.5" cy="500.9" rx="1.4" ry="1.8" fill="#6e6e6e" opacity="0.21917066086036255" filter="url(#b1)"/><ellipse cx="467.2" cy="496.5" rx="2.5" ry="1.0" fill="#7a7a7a" opacity="0.3101721603547266" filter="url(#b1)"/><ellipse cx="469.8" cy="500.5" rx="1.5" ry="1.9" fill="#7a7a7a" opacity="0.3329736772196795" filter="url(#b1)"/><ellipse cx="487.6" cy="515.1" rx="2.4" ry="1.5" fill="#6e6e6e" opacity="0.24698296246296497" filter="url(#b1)"/><ellipse cx="469.5" cy="499.9" rx="1.1" ry="2.3" fill="#d8d8d8" opacity="0.36637104254627084" filter="url(#b1)"/><ellipse cx="478.4" cy="501.2" rx="1.9" ry="2.2" fill="#d8d8d8" opacity="0.3620110220559086" filter="url(#b1)"/><ellipse cx="477.3" cy="503.9" rx="1.5" ry="1.6" fill="#888888" opacity="0.20830629785565954" filter="url(#b1)"/><ellipse cx="469.8" cy="513.1" rx="1.1" ry="1.9" fill="#6e6e6e" opacity="0.22010830290405467" filter="url(#b1)"/><ellipse cx="478.0" cy="505.3" rx="1.2" ry="1.9" fill="#d8d8d8" opacity="0.16660961734651522" filter="url(#b1)"/><ellipse cx="489.4" cy="509.2" rx="1.4" ry="1.5" fill="#e6e6e6" opacity="0.33673567024761564" filter="url(#b1)"/><ellipse cx="471.6" cy="507.4" rx="1.2" ry="1.1" fill="#d8d8d8" opacity="0.20721736005969119" filter="url(#b1)"/><ellipse cx="485.0" cy="508.8" rx="1.2" ry="2.3" fill="#7a7a7a" opacity="0.22273106362487888" filter="url(#b1)"/><ellipse cx="462.8" cy="502.6" rx="2.4" ry="2.3" fill="#6e6e6e" opacity="0.3337194891184815" filter="url(#b1)"/><ellipse cx="490.8" cy="494.4" rx="1.5" ry="1.2" fill="#d8d8d8" opacity="0.3129806503847757" filter="url(#b1)"/><ellipse cx="487.8" cy="514.9" rx="1.5" ry="1.3" fill="#6e6e6e" opacity="0.261035559870294" filter="url(#b1)"/><ellipse cx="466.1" cy="503.2" rx="1.5" ry="1.0" fill="#7a7a7a" opacity="0.1611992982305313" filter="url(#b1)"/><ellipse cx="467.1" cy="512.8" rx="2.6" ry="1.8" fill="#d8d8d8" opacity="0.2598316926169184" filter="url(#b1)"/><ellipse cx="468.2" cy="516.0" rx="1.1" ry="1.1" fill="#6e6e6e" opacity="0.19216756782594105" filter="url(#b1)"/><ellipse cx="482.3" cy="497.6" rx="1.9" ry="1.8" fill="#6e6e6e" opacity="0.23035823888636478" filter="url(#b1)"/><ellipse cx="463.1" cy="514.0" rx="2.2" ry="1.6" fill="#d8d8d8" opacity="0.39691434614409027" filter="url(#b1)"/><ellipse cx="476.3" cy="499.8" rx="1.8" ry="1.3" fill="#e6e6e6" opacity="0.26087552690615123" filter="url(#b1)"/><ellipse cx="481.4" cy="504.3" rx="1.8" ry="1.0" fill="#7a7a7a" opacity="0.2135984153549883" filter="url(#b1)"/><ellipse cx="469.3" cy="499.0" rx="1.7" ry="1.4" fill="#7a7a7a" opacity="0.23125351751460455" filter="url(#b1)"/><ellipse cx="488.7" cy="501.5" rx="2.6" ry="1.6" fill="#6e6e6e" opacity="0.37523803944320877" filter="url(#b1)"/><ellipse cx="481.6" cy="513.0" rx="1.8" ry="1.1" fill="#6e6e6e" opacity="0.20273032361628057" filter="url(#b1)"/><ellipse cx="488.2" cy="515.6" rx="1.5" ry="1.9" fill="#7a7a7a" opacity="0.3498761648325203" filter="url(#b1)"/><ellipse cx="481.3" cy="513.6" rx="1.3" ry="2.1" fill="#888888" opacity="0.3502760921945778" filter="url(#b1)"/><ellipse cx="472.2" cy="503.4" rx="1.1" ry="2.4" fill="#e6e6e6" opacity="0.3904434543621931" filter="url(#b1)"/><ellipse cx="482.1" cy="495.1" rx="1.2" ry="2.4" fill="#888888" opacity="0.31679747934697744" filter="url(#b1)"/><ellipse cx="463.8" cy="498.0" rx="1.9" ry="2.0" fill="#e6e6e6" opacity="0.3818702366025043" filter="url(#b1)"/><ellipse cx="468.6" cy="494.1" rx="1.0" ry="2.2" fill="#7a7a7a" opacity="0.1789724923591747" filter="url(#b1)"/><ellipse cx="486.3" cy="512.8" rx="1.9" ry="2.2" fill="#7a7a7a" opacity="0.20041736208256608" filter="url(#b1)"/><ellipse cx="482.1" cy="501.9" rx="2.2" ry="1.7" fill="#888888" opacity="0.28160216145150796" filter="url(#b1)"/><ellipse cx="462.8" cy="494.8" rx="1.2" ry="1.8" fill="#888888" opacity="0.2142378676834053" filter="url(#b1)"/><ellipse cx="485.2" cy="495.0" rx="2.2" ry="1.7" fill="#6e6e6e" opacity="0.15263781714614189" filter="url(#b1)"/><ellipse cx="462.0" cy="507.0" rx="2.0" ry="1.5" fill="#e4e4e4" opacity="0.6" filter="url(#b05)"/><ellipse cx="470.0" cy="513.0" rx="2.0" ry="1.5" fill="#e4e4e4" opacity="0.6" filter="url(#b05)"/><ellipse cx="486.0" cy="511.0" rx="2.0" ry="1.5" fill="#e4e4e4" opacity="0.6" filter="url(#b05)"/><path d="M474.2,493.6 L475.3,493.4 L476.4,493.2 L477.5,493.1 L478.6,493.0 L479.7,493.0 L480.8,493.1 L481.9,493.2 L483.0,493.4 L484.1,493.7 L485.1,494.0 L486.1,494.4 L487.0,494.8 L487.9,495.3 L488.8,495.8 L489.5,496.4 L490.2,497.0 L490.9,497.7 L491.4,498.4 L491.9,499.1 L492.3,499.9 L492.6,500.6 L492.8,501.4 L493.0,502.2 L493.0,503.0" fill="none" stroke="#ececec" stroke-width="2.2" stroke-linecap="round" opacity="0.7" filter="url(#b1)"/><ellipse cx="471.5" cy="526.7" rx="1.6" ry="1.2" fill="#555" opacity="0.6" filter="url(#b05)"/><ellipse cx="509.0" cy="498.0" rx="2.0" ry="1.0" fill="#666" opacity="0.5" filter="url(#b05)"/></g>
<text x="233.4" y="537.5" font-size="9.5" text-anchor="start" fill="#111" font-weight="normal" >IRM</text>
</svg></body></html>
